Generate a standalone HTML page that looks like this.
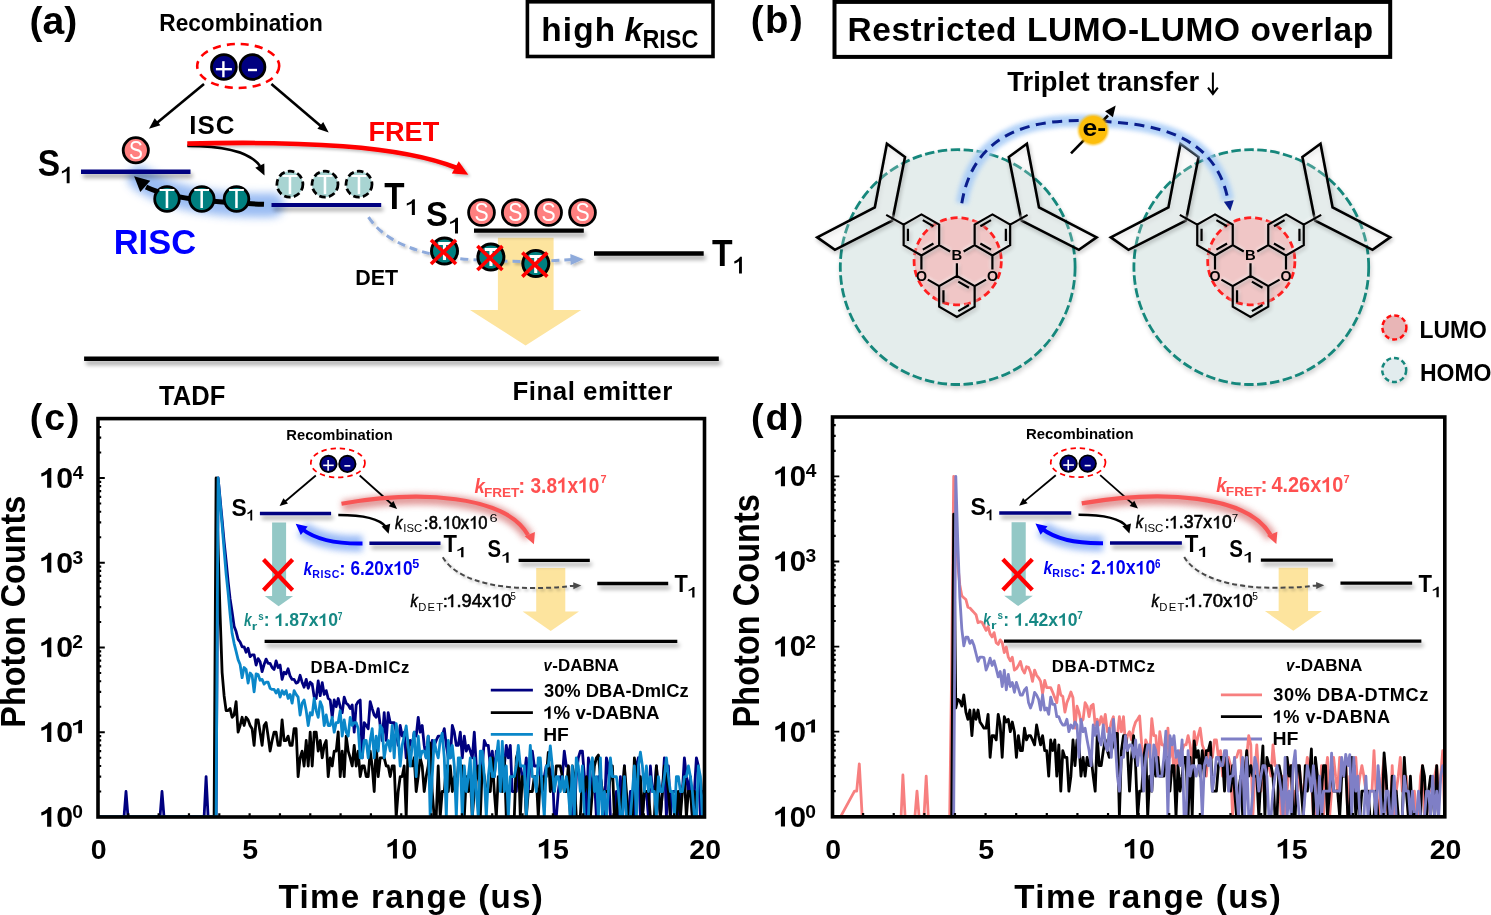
<!DOCTYPE html>
<html><head><meta charset="utf-8"><title>figure</title>
<style>
html,body{margin:0;padding:0;background:#fff;overflow:hidden;}
svg{display:block;will-change:transform;font-family:"Liberation Sans", sans-serif;}
</style></head><body>
<svg width="1491" height="915" viewBox="0 0 1491 915">
<rect x="0" y="0" width="1491" height="915" fill="#fff"/>
<defs>
<filter id="sh" filterUnits="userSpaceOnUse" x="0" y="0" width="1491" height="915">
 <feGaussianBlur in="SourceAlpha" stdDeviation="2.2"/>
 <feOffset dx="2" dy="4" result="o"/>
 <feComponentTransfer><feFuncA type="linear" slope="0.35"/></feComponentTransfer>
 <feMerge><feMergeNode/><feMergeNode in="SourceGraphic"/></feMerge>
</filter>
<filter id="sh2" filterUnits="userSpaceOnUse" x="0" y="0" width="1491" height="915">
 <feGaussianBlur in="SourceAlpha" stdDeviation="1.4"/>
 <feOffset dx="1.5" dy="2" result="o"/>
 <feComponentTransfer><feFuncA type="linear" slope="0.25"/></feComponentTransfer>
 <feMerge><feMergeNode/><feMergeNode in="SourceGraphic"/></feMerge>
</filter>
<filter id="blur4" filterUnits="userSpaceOnUse" x="0" y="0" width="1491" height="915"><feGaussianBlur stdDeviation="4"/></filter>
<filter id="blur3" filterUnits="userSpaceOnUse" x="0" y="0" width="1491" height="915"><feGaussianBlur stdDeviation="3"/></filter>
<filter id="blur2" filterUnits="userSpaceOnUse" x="0" y="0" width="1491" height="915"><feGaussianBlur stdDeviation="2"/></filter>
<filter id="blur1" filterUnits="userSpaceOnUse" x="0" y="0" width="1491" height="915"><feGaussianBlur stdDeviation="1"/></filter>
</defs>
<text x="29.54" y="33.50" font-size="38.60" font-weight="bold" font-style="normal" textLength="47.80" lengthAdjust="spacingAndGlyphs" fill="#000" >(a)</text>
<text x="159.33" y="31.20" font-size="23.55" font-weight="bold" font-style="normal" textLength="163.49" lengthAdjust="spacingAndGlyphs" fill="#000" >Recombination</text>
<ellipse cx="238.20" cy="66.00" rx="41.00" ry="22.00" fill="none" stroke="#FF0000" stroke-width="2.60" stroke-dasharray="8.00 6.00"/><circle cx="223.90" cy="67.00" r="12.40" fill="#000080" stroke="#000" stroke-width="2.8" /><line x1="215.90" y1="69.20" x2="231.90" y2="69.20" stroke="#fff" stroke-width="2.4" /><line x1="223.40" y1="61.20" x2="223.40" y2="77.20" stroke="#fff" stroke-width="2.4" /><circle cx="252.50" cy="67.00" r="12.40" fill="#000080" stroke="#000" stroke-width="2.8" /><line x1="248.00" y1="70.00" x2="257.00" y2="70.00" stroke="#fff" stroke-width="2.4" />
<line x1="204.00" y1="84.00" x2="155.00" y2="124.50" stroke="#000" stroke-width="2.6" />
<polygon points="149.00,128.70 154.70,118.27 160.37,125.25" fill="#000" />
<line x1="271.40" y1="84.00" x2="322.50" y2="127.50" stroke="#000" stroke-width="2.6" />
<polygon points="328.70,132.50 317.40,128.83 323.21,121.96" fill="#000" />
<text x="189.32" y="133.80" font-size="25.87" font-weight="bold" font-style="normal" textLength="45.01" lengthAdjust="spacing" fill="#000" >ISC</text>
<path d="M 272 205 C 240 206, 175 204, 140 178" fill="none" stroke="#8FB5F2" stroke-width="24" stroke-linecap="round" filter="url(#blur4)" opacity="0.9"/>
<g filter="url(#sh)"><line x1="81.00" y1="171.80" x2="190.50" y2="171.80" stroke="#000080" stroke-width="4.5" /></g>
<circle cx="135.80" cy="150.30" r="12.60" fill="#FF8080" stroke="#000" stroke-width="2.8" />
<text x="128.88" y="159.20" font-size="26.00" font-weight="normal" font-style="normal" textLength="13.87" lengthAdjust="spacingAndGlyphs" fill="#fff" >S</text>
<text x="37.70" y="175.80" font-size="37.35" font-weight="bold" font-style="normal" textLength="22.35" lengthAdjust="spacingAndGlyphs" fill="#000" >S</text>
<path d="M69.60,183.30 L69.60,166.85 L67.67,166.85 C67.07,168.07 65.84,169.18 64.41,170.00 C63.44,170.55 62.59,170.89 61.90,171.12 L61.90,173.49 C63.51,172.99 65.34,172.12 66.70,171.12 L66.70,183.30 Z" fill="#000" />
<path d="M 264 204.3 C 230 203, 175 201, 146 187" fill="none" stroke="#000" stroke-width="5"/>
<polygon points="134.10,176.30 150.28,180.70 140.29,191.88" fill="#000" />
<circle cx="167.00" cy="199.00" r="12.30" fill="#008080" stroke="#000" stroke-width="2.8" />
<text x="159.03" y="208.20" font-size="27.50" font-weight="normal" font-style="normal" textLength="15.96" lengthAdjust="spacingAndGlyphs" fill="#fff" >T</text>
<circle cx="201.80" cy="199.00" r="12.30" fill="#008080" stroke="#000" stroke-width="2.8" />
<text x="193.83" y="208.20" font-size="27.50" font-weight="normal" font-style="normal" textLength="15.96" lengthAdjust="spacingAndGlyphs" fill="#fff" >T</text>
<circle cx="236.50" cy="199.00" r="12.30" fill="#008080" stroke="#000" stroke-width="2.8" />
<text x="228.53" y="208.20" font-size="27.50" font-weight="normal" font-style="normal" textLength="15.96" lengthAdjust="spacingAndGlyphs" fill="#fff" >T</text>
<text x="113.76" y="254.20" font-size="35.17" font-weight="bold" font-style="normal" textLength="82.24" lengthAdjust="spacingAndGlyphs" fill="#0000FF" >RISC</text>
<path d="M 187.3 145.9 C 225 146, 250 152, 260 166" fill="none" stroke="#000" stroke-width="2.6"/>
<polygon points="264.50,175.50 255.27,167.70 264.31,163.42" fill="#000" />
<g filter="url(#sh2)"><path d="M 187.3 143.6 C 300 141, 400 145, 457 168" fill="none" stroke="#FF0000" stroke-width="4.6"/><polygon points="468.30,174.80 451.80,173.44 458.75,161.28" fill="#FF0000" /></g>
<text x="368.44" y="141.40" font-size="27.76" font-weight="bold" font-style="normal" textLength="70.86" lengthAdjust="spacingAndGlyphs" fill="#FF0000" >FRET</text>
<g filter="url(#sh)"><line x1="271.50" y1="205.00" x2="381.20" y2="205.00" stroke="#000080" stroke-width="4" /></g>
<circle cx="289.90" cy="184.20" r="13.00" fill="#A8D4D2" stroke="#000" stroke-width="2.8" stroke-dasharray="6.5 3.3"/>
<text x="281.93" y="193.60" font-size="27.50" font-weight="normal" font-style="normal" textLength="15.96" lengthAdjust="spacingAndGlyphs" fill="#fff" >T</text>
<circle cx="325.00" cy="184.20" r="13.00" fill="#A8D4D2" stroke="#000" stroke-width="2.8" stroke-dasharray="6.5 3.3"/>
<text x="317.03" y="193.60" font-size="27.50" font-weight="normal" font-style="normal" textLength="15.96" lengthAdjust="spacingAndGlyphs" fill="#fff" >T</text>
<circle cx="359.00" cy="184.20" r="13.00" fill="#A8D4D2" stroke="#000" stroke-width="2.8" stroke-dasharray="6.5 3.3"/>
<text x="351.03" y="193.60" font-size="27.50" font-weight="normal" font-style="normal" textLength="15.96" lengthAdjust="spacingAndGlyphs" fill="#fff" >T</text>
<text x="384.37" y="208.80" font-size="37.06" font-weight="bold" font-style="normal" textLength="20.29" lengthAdjust="spacingAndGlyphs" fill="#000" >T</text>
<path d="M414.90,215.10 L414.90,199.25 L412.87,199.25 C412.24,200.43 410.94,201.50 409.44,202.28 C408.42,202.82 407.53,203.14 406.80,203.36 L406.80,205.65 C408.49,205.17 410.42,204.33 411.84,203.36 L411.84,215.10 Z" fill="#000" />
<text x="426.01" y="226.10" font-size="35.76" font-weight="bold" font-style="normal" textLength="21.90" lengthAdjust="spacingAndGlyphs" fill="#000" >S</text>
<path d="M458.00,233.40 L458.00,217.75 L456.02,217.75 C455.41,218.91 454.14,219.97 452.68,220.74 C451.68,221.27 450.81,221.59 450.10,221.81 L450.10,224.06 C451.75,223.59 453.63,222.76 455.02,221.81 L455.02,233.40 Z" fill="#000" />
<polygon points="497.9,237.7 553.6,237.7 553.6,310 581.2,310 525.6,345.6 470,310 497.9,310" fill="#FDE49E"/>
<g filter="url(#sh)"><line x1="474.00" y1="230.60" x2="583.80" y2="230.60" stroke="#000" stroke-width="4.4" /></g>
<circle cx="481.50" cy="212.50" r="12.90" fill="#FF8080" stroke="#000" stroke-width="2.8" />
<text x="474.45" y="221.30" font-size="26.50" font-weight="normal" font-style="normal" textLength="14.14" lengthAdjust="spacingAndGlyphs" fill="#fff" >S</text>
<circle cx="515.30" cy="212.50" r="12.90" fill="#FF8080" stroke="#000" stroke-width="2.8" />
<text x="508.25" y="221.30" font-size="26.50" font-weight="normal" font-style="normal" textLength="14.14" lengthAdjust="spacingAndGlyphs" fill="#fff" >S</text>
<circle cx="548.60" cy="212.50" r="12.90" fill="#FF8080" stroke="#000" stroke-width="2.8" />
<text x="541.55" y="221.30" font-size="26.50" font-weight="normal" font-style="normal" textLength="14.14" lengthAdjust="spacingAndGlyphs" fill="#fff" >S</text>
<circle cx="582.50" cy="212.50" r="12.90" fill="#FF8080" stroke="#000" stroke-width="2.8" />
<text x="575.45" y="221.30" font-size="26.50" font-weight="normal" font-style="normal" textLength="14.14" lengthAdjust="spacingAndGlyphs" fill="#fff" >S</text>
<g filter="url(#sh2)"><path d="M 368.5 217.2 C 385 242, 420 256, 470 259.5 S 550 261, 572 259.6" fill="none" stroke="#8EAADB" stroke-width="3" stroke-dasharray="8 5"/><polygon points="583.50,259.20 570.67,265.09 570.34,254.09" fill="#8EAADB" /></g>
<circle cx="444.50" cy="251.00" r="13.00" fill="#008080" stroke="#000" stroke-width="3" />
<text x="438.02" y="260.00" font-size="25.00" font-weight="bold" font-style="normal" textLength="12.98" lengthAdjust="spacingAndGlyphs" fill="#fff" >T</text>
<line x1="431.00" y1="240.00" x2="456.00" y2="264.00" stroke="#FF0000" stroke-width="3.6" />
<line x1="456.00" y1="240.00" x2="431.00" y2="264.00" stroke="#FF0000" stroke-width="3.6" />
<circle cx="490.90" cy="257.00" r="13.00" fill="#008080" stroke="#000" stroke-width="3" />
<text x="484.42" y="266.00" font-size="25.00" font-weight="bold" font-style="normal" textLength="12.98" lengthAdjust="spacingAndGlyphs" fill="#fff" >T</text>
<line x1="477.40" y1="246.00" x2="502.40" y2="270.00" stroke="#FF0000" stroke-width="3.6" />
<line x1="502.40" y1="246.00" x2="477.40" y2="270.00" stroke="#FF0000" stroke-width="3.6" />
<circle cx="535.80" cy="263.60" r="13.00" fill="#008080" stroke="#000" stroke-width="3" />
<text x="529.32" y="272.60" font-size="25.00" font-weight="bold" font-style="normal" textLength="12.98" lengthAdjust="spacingAndGlyphs" fill="#fff" >T</text>
<line x1="522.30" y1="252.60" x2="547.30" y2="276.60" stroke="#FF0000" stroke-width="3.6" />
<line x1="547.30" y1="252.60" x2="522.30" y2="276.60" stroke="#FF0000" stroke-width="3.6" />
<text x="355.31" y="285.10" font-size="22.24" font-weight="bold" font-style="normal" textLength="42.91" lengthAdjust="spacingAndGlyphs" fill="#000" >DET</text>
<g filter="url(#sh)"><line x1="594.00" y1="253.50" x2="703.70" y2="253.50" stroke="#000" stroke-width="4.4" /></g>
<text x="712.06" y="265.80" font-size="36.19" font-weight="bold" font-style="normal" textLength="20.60" lengthAdjust="spacingAndGlyphs" fill="#000" >T</text>
<path d="M741.90,273.40 L741.90,256.85 L739.99,256.85 C739.41,258.08 738.19,259.20 736.78,260.02 C735.82,260.58 734.98,260.92 734.30,261.15 L734.30,263.53 C735.89,263.03 737.70,262.15 739.03,261.14 L739.03,273.40 Z" fill="#000" />
<g filter="url(#sh)"><line x1="84.10" y1="358.80" x2="718.80" y2="358.80" stroke="#000" stroke-width="4.5" /></g>
<text x="159.04" y="404.90" font-size="27.76" font-weight="bold" font-style="normal" textLength="66.20" lengthAdjust="spacingAndGlyphs" fill="#000" >TADF</text>
<text x="512.52" y="400.40" font-size="25.87" font-weight="bold" font-style="normal" textLength="159.75" lengthAdjust="spacing" fill="#000" >Final emitter</text>
<rect x="527.4" y="1.8" width="185.6" height="54.7" fill="none" stroke="#000" stroke-width="3.6"/>
<text x="541.16" y="40.80" font-size="33.38" font-weight="bold" font-style="normal" textLength="74.06" lengthAdjust="spacing" fill="#000" >high</text>
<text x="624.51" y="40.80" font-size="33.38" font-weight="bold" font-style="italic" textLength="18.22" lengthAdjust="spacingAndGlyphs" fill="#000" >k</text>
<text x="642.48" y="48.40" font-size="25.87" font-weight="bold" font-style="normal" textLength="55.90" lengthAdjust="spacingAndGlyphs" fill="#000" >RISC</text>
<text x="750.79" y="32.90" font-size="38.30" font-weight="bold" font-style="normal" textLength="51.92" lengthAdjust="spacing" fill="#000" >(b)</text>
<rect x="834.5" y="1.9" width="555.7" height="55" fill="none" stroke="#000" stroke-width="4"/>
<text x="847.43" y="40.80" font-size="33.43" font-weight="bold" font-style="normal" textLength="525.69" lengthAdjust="spacing" fill="#000" >Restricted LUMO-LUMO overlap</text>
<text x="1007.33" y="91.30" font-size="27.18" font-weight="bold" font-style="normal" textLength="191.81" lengthAdjust="spacingAndGlyphs" fill="#000" >Triplet transfer</text>
<path d="M1212.9,72.5 V93 M1208,87.6 L1212.9,94 L1217.8,87.6" fill="none" stroke="#000" stroke-width="2"/>
<defs><filter id="msh" filterUnits="userSpaceOnUse" x="0" y="0" width="1491" height="915">
 <feGaussianBlur in="SourceAlpha" stdDeviation="2.2"/>
 <feOffset dx="1" dy="2"/>
 <feComponentTransfer><feFuncA type="linear" slope="0.3"/></feComponentTransfer>
 <feMerge><feMergeNode/><feMergeNode in="SourceGraphic"/></feMerge>
</filter>
<filter id="csh" filterUnits="userSpaceOnUse" x="0" y="0" width="1491" height="915">
 <feGaussianBlur in="SourceAlpha" stdDeviation="2.5"/>
 <feOffset dx="1" dy="3"/>
 <feComponentTransfer><feFuncA type="linear" slope="0.18"/></feComponentTransfer>
 <feMerge><feMergeNode/><feMergeNode in="SourceGraphic"/></feMerge>
</filter></defs>
<circle cx="957.70" cy="267.10" r="117.4" fill="#E4EDEC" stroke="#15877B" stroke-width="2.8" stroke-dasharray="9.5 3.5" filter="url(#csh)"/>
<circle cx="1251.30" cy="267.10" r="117.4" fill="#E4EDEC" stroke="#15877B" stroke-width="2.8" stroke-dasharray="9.5 3.5" filter="url(#csh)"/>
<circle cx="957.70" cy="261.30" r="43.6" fill="#F0C6C6" stroke="#FF2020" stroke-width="2.8" stroke-dasharray="7 4"/>
<circle cx="1251.30" cy="261.30" r="43.6" fill="#F0C6C6" stroke="#FF2020" stroke-width="2.8" stroke-dasharray="7 4"/>
<path d="M1096.60,237.40 L1039.00,207.50 L1026.90,143.80 L1008.80,157.00 L1020.50,215.70 L1021.60,220.60 L1078.90,249.80 Z" fill="#FFFFFF" fill-opacity="0.18" stroke="#000" stroke-width="2.6" stroke-linejoin="miter" filter="url(#msh)"/>
<path d="M817.20,237.40 L874.80,207.50 L886.90,143.80 L905.00,157.00 L893.30,215.70 L892.20,220.60 L834.90,249.80 Z" fill="#FFFFFF" fill-opacity="0.18" stroke="#000" stroke-width="2.6" stroke-linejoin="miter" filter="url(#msh)"/>
<path d="M921.40,214.40 L939.15,224.65 L939.15,245.15 L921.40,255.40 L903.65,245.15 L903.65,224.65 Z M922.80,220.17 L933.45,226.32 M933.45,243.48 L922.80,249.63 M907.95,241.05 L907.95,228.75 M992.40,214.40 L1010.15,224.65 L1010.15,245.15 L992.40,255.40 L974.65,245.15 L974.65,224.65 Z M991.00,220.17 L980.35,226.32 M1005.85,228.75 L1005.85,241.05 M991.00,249.63 L980.35,243.48 M956.90,275.90 L974.65,286.15 L974.65,306.65 L956.90,316.90 L939.15,306.65 L939.15,286.15 Z M958.30,281.67 L968.95,287.82 M968.95,304.98 L958.30,311.13 M943.45,302.55 L943.45,290.25 M950.15,251.50 L939.15,245.15 M963.64,251.50 L974.65,245.15 M956.90,263.19 L956.90,275.90 M921.40,255.40 L921.40,269.40 M927.79,279.59 L939.15,286.15 M992.40,255.40 L992.40,269.40 M986.01,279.59 L974.65,286.15 M1027.60,214.90 L1010.15,224.65 M886.20,214.90 L903.65,224.65" fill="none" stroke="#fff" stroke-width="6" opacity="0.45" filter="url(#blur1)"/>
<path d="M921.40,214.40 L939.15,224.65 L939.15,245.15 L921.40,255.40 L903.65,245.15 L903.65,224.65 Z M922.80,220.17 L933.45,226.32 M933.45,243.48 L922.80,249.63 M907.95,241.05 L907.95,228.75 M992.40,214.40 L1010.15,224.65 L1010.15,245.15 L992.40,255.40 L974.65,245.15 L974.65,224.65 Z M991.00,220.17 L980.35,226.32 M1005.85,228.75 L1005.85,241.05 M991.00,249.63 L980.35,243.48 M956.90,275.90 L974.65,286.15 L974.65,306.65 L956.90,316.90 L939.15,306.65 L939.15,286.15 Z M958.30,281.67 L968.95,287.82 M968.95,304.98 L958.30,311.13 M943.45,302.55 L943.45,290.25 M950.15,251.50 L939.15,245.15 M963.64,251.50 L974.65,245.15 M956.90,263.19 L956.90,275.90 M921.40,255.40 L921.40,269.40 M927.79,279.59 L939.15,286.15 M992.40,255.40 L992.40,269.40 M986.01,279.59 L974.65,286.15 M1027.60,214.90 L1010.15,224.65 M886.20,214.90 L903.65,224.65" fill="none" stroke="#000" stroke-width="2.2" stroke-linejoin="miter" filter="url(#msh)"/>
<text x="951.42" y="260.40" font-size="14.80" font-weight="bold" font-style="normal" textLength="10.69" lengthAdjust="spacingAndGlyphs" fill="#000" >B</text>
<text x="915.90" y="280.80" font-size="14.20" font-weight="bold" font-style="normal" textLength="11.04" lengthAdjust="spacingAndGlyphs" fill="#000" >O</text>
<text x="986.90" y="280.80" font-size="14.20" font-weight="bold" font-style="normal" textLength="11.04" lengthAdjust="spacingAndGlyphs" fill="#000" >O</text>
<path d="M1390.20,237.40 L1332.60,207.50 L1320.50,143.80 L1302.40,157.00 L1314.10,215.70 L1315.20,220.60 L1372.50,249.80 Z" fill="#FFFFFF" fill-opacity="0.18" stroke="#000" stroke-width="2.6" stroke-linejoin="miter" filter="url(#msh)"/>
<path d="M1110.80,237.40 L1168.40,207.50 L1180.50,143.80 L1198.60,157.00 L1186.90,215.70 L1185.80,220.60 L1128.50,249.80 Z" fill="#FFFFFF" fill-opacity="0.18" stroke="#000" stroke-width="2.6" stroke-linejoin="miter" filter="url(#msh)"/>
<path d="M1215.00,214.40 L1232.75,224.65 L1232.75,245.15 L1215.00,255.40 L1197.25,245.15 L1197.25,224.65 Z M1216.40,220.17 L1227.05,226.32 M1227.05,243.48 L1216.40,249.63 M1201.55,241.05 L1201.55,228.75 M1286.00,214.40 L1303.75,224.65 L1303.75,245.15 L1286.00,255.40 L1268.25,245.15 L1268.25,224.65 Z M1284.60,220.17 L1273.95,226.32 M1299.45,228.75 L1299.45,241.05 M1284.60,249.63 L1273.95,243.48 M1250.50,275.90 L1268.25,286.15 L1268.25,306.65 L1250.50,316.90 L1232.75,306.65 L1232.75,286.15 Z M1251.90,281.67 L1262.55,287.82 M1262.55,304.98 L1251.90,311.13 M1237.05,302.55 L1237.05,290.25 M1243.76,251.50 L1232.75,245.15 M1257.24,251.50 L1268.25,245.15 M1250.50,263.19 L1250.50,275.90 M1215.00,255.40 L1215.00,269.40 M1221.39,279.59 L1232.75,286.15 M1286.00,255.40 L1286.00,269.40 M1279.61,279.59 L1268.25,286.15 M1321.20,214.90 L1303.75,224.65 M1179.80,214.90 L1197.25,224.65" fill="none" stroke="#fff" stroke-width="6" opacity="0.45" filter="url(#blur1)"/>
<path d="M1215.00,214.40 L1232.75,224.65 L1232.75,245.15 L1215.00,255.40 L1197.25,245.15 L1197.25,224.65 Z M1216.40,220.17 L1227.05,226.32 M1227.05,243.48 L1216.40,249.63 M1201.55,241.05 L1201.55,228.75 M1286.00,214.40 L1303.75,224.65 L1303.75,245.15 L1286.00,255.40 L1268.25,245.15 L1268.25,224.65 Z M1284.60,220.17 L1273.95,226.32 M1299.45,228.75 L1299.45,241.05 M1284.60,249.63 L1273.95,243.48 M1250.50,275.90 L1268.25,286.15 L1268.25,306.65 L1250.50,316.90 L1232.75,306.65 L1232.75,286.15 Z M1251.90,281.67 L1262.55,287.82 M1262.55,304.98 L1251.90,311.13 M1237.05,302.55 L1237.05,290.25 M1243.76,251.50 L1232.75,245.15 M1257.24,251.50 L1268.25,245.15 M1250.50,263.19 L1250.50,275.90 M1215.00,255.40 L1215.00,269.40 M1221.39,279.59 L1232.75,286.15 M1286.00,255.40 L1286.00,269.40 M1279.61,279.59 L1268.25,286.15 M1321.20,214.90 L1303.75,224.65 M1179.80,214.90 L1197.25,224.65" fill="none" stroke="#000" stroke-width="2.2" stroke-linejoin="miter" filter="url(#msh)"/>
<text x="1245.02" y="260.40" font-size="14.80" font-weight="bold" font-style="normal" textLength="10.69" lengthAdjust="spacingAndGlyphs" fill="#000" >B</text>
<text x="1209.50" y="280.80" font-size="14.20" font-weight="bold" font-style="normal" textLength="11.04" lengthAdjust="spacingAndGlyphs" fill="#000" >O</text>
<text x="1280.50" y="280.80" font-size="14.20" font-weight="bold" font-style="normal" textLength="11.04" lengthAdjust="spacingAndGlyphs" fill="#000" >O</text>
<path d="M 961.8 203.3 C 975 122, 1050 119, 1094 121 C 1150 123, 1215 132, 1228 200" fill="none" stroke="#A6CBF7" stroke-width="12" filter="url(#blur2)" opacity="0.85"/>
<path d="M 961.8 203.3 C 975 122, 1050 119, 1094 121 C 1150 123, 1215 132, 1228 200" fill="none" stroke="#0B1E8C" stroke-width="3" stroke-dasharray="10 6.5"/>
<polygon points="1230.30,211.00 1223.87,201.85 1233.76,200.37" fill="#0B1E8C" />
<line x1="1071.00" y1="153.40" x2="1108.00" y2="115.50" stroke="#000" stroke-width="2.6" />
<polygon points="1115.70,105.60 1112.89,117.35 1105.00,111.21" fill="#000" />
<circle cx="1093.2" cy="130" r="15" fill="#FDBE0A" filter="url(#blur1)"/>
<circle cx="1093.2" cy="130" r="13.6" fill="#FDBE0A"/>
<text x="1082.43" y="136.40" font-size="24.07" font-weight="bold" font-style="normal" textLength="23.71" lengthAdjust="spacingAndGlyphs" fill="#000" >e-</text>
<circle cx="1394.4" cy="327.4" r="12" fill="#E8B5B6" stroke="#FF1010" stroke-width="2.5" stroke-dasharray="5 3" filter="url(#csh)"/>
<circle cx="1394.2" cy="370" r="12" fill="#E2ECEE" stroke="#15877B" stroke-width="2.5" stroke-dasharray="5 3" filter="url(#csh)"/>
<text x="1419.41" y="337.90" font-size="23.40" font-weight="bold" font-style="normal" textLength="67.39" lengthAdjust="spacingAndGlyphs" fill="#000" >LUMO</text>
<text x="1419.91" y="381.00" font-size="23.40" font-weight="bold" font-style="normal" textLength="71.53" lengthAdjust="spacingAndGlyphs" fill="#000" >HOMO</text>
<text x="29.74" y="430.00" font-size="37.30" font-weight="bold" font-style="normal" textLength="49.70" lengthAdjust="spacing" fill="#000" >(c)</text>
<g transform="translate(24.9,725.6) rotate(-90)"><text x="-2.10" y="0.00" font-size="34.74" font-weight="bold" font-style="normal" textLength="231.91" lengthAdjust="spacingAndGlyphs" fill="#000" >Photon Counts</text></g>
<text x="278.47" y="907.70" font-size="33.14" font-weight="bold" font-style="normal" textLength="264.33" lengthAdjust="spacing" fill="#000" >Time range (us)</text>
<path d="M 341.5 503.7 C 420 490, 505 495, 528 535" fill="none" stroke="#D87878" stroke-width="11" filter="url(#blur3)" opacity="0.75" transform="translate(1,2.5)"/>
<text x="286.34" y="439.60" font-size="14.97" font-weight="bold" font-style="normal" textLength="106.48" lengthAdjust="spacingAndGlyphs" fill="#000" >Recombination</text>
<ellipse cx="337.90" cy="462.90" rx="27.06" ry="14.52" fill="none" stroke="#FF0000" stroke-width="1.72" stroke-dasharray="5.28 3.96"/>
<circle cx="328.46" cy="463.90" r="8.18" fill="#000080" stroke="#000" stroke-width="1.8479999999999999" />
<line x1="323.18" y1="465.35" x2="333.74" y2="465.35" stroke="#fff" stroke-width="1.584" />
<line x1="328.13" y1="460.07" x2="328.13" y2="470.63" stroke="#fff" stroke-width="1.584" />
<circle cx="347.34" cy="463.90" r="8.18" fill="#000080" stroke="#000" stroke-width="1.8479999999999999" />
<line x1="344.37" y1="465.88" x2="350.31" y2="465.88" stroke="#fff" stroke-width="1.584" />
<line x1="315.80" y1="475.50" x2="283.60" y2="502.70" stroke="#000" stroke-width="1.8" />
<polygon points="279.60,506.10 283.45,498.26 287.97,503.61" fill="#000" />
<line x1="359.70" y1="475.50" x2="393.30" y2="505.50" stroke="#000" stroke-width="1.8" />
<polygon points="397.10,508.90 388.80,506.18 393.46,500.96" fill="#000" />
<text x="231.41" y="515.80" font-size="23.40" font-weight="bold" font-style="normal" textLength="15.23" lengthAdjust="spacingAndGlyphs" fill="#000" >S</text>
<path d="M252.20,520.60 L252.20,509.83 L250.95,509.83 C250.61,510.64 249.85,511.38 248.97,511.91 C248.37,512.27 247.84,512.48 247.40,512.63 L247.40,514.27 C248.40,513.95 249.50,513.40 250.33,512.75 L250.33,520.60 Z" fill="#000" />
<polygon points="272.1,522.5 286.1,522.5 286.1,596 293.1,596 278.6,606.3 264.8,596 272.1,596" fill="#93C8C6"/>
<path d="M 362.5 543.6 C 335 544, 315 539, 302 529" fill="none" stroke="#8FB3F5" stroke-width="16" filter="url(#blur3)" opacity="0.9"/>
<g filter="url(#sh)"><line x1="259.90" y1="513.40" x2="331.10" y2="513.40" stroke="#000080" stroke-width="3.5" /></g>
<path d="M 362.5 543.6 C 335 544, 315 539, 302 529" fill="none" stroke="#0000FF" stroke-width="4"/>
<polygon points="295.70,523.80 307.71,526.47 300.77,535.01" fill="#0000FF" />
<line x1="263.50" y1="559.50" x2="292.60" y2="590.30" stroke="#FF0000" stroke-width="4.2" />
<line x1="292.60" y1="559.50" x2="263.50" y2="590.30" stroke="#FF0000" stroke-width="4.2" />
<g filter="url(#sh)"><line x1="369.40" y1="543.30" x2="440.50" y2="543.30" stroke="#000080" stroke-width="3.5" /></g>
<text x="443.38" y="552.00" font-size="23.40" font-weight="bold" font-style="normal" textLength="13.46" lengthAdjust="spacingAndGlyphs" fill="#000" >T</text>
<path d="M463.50,557.30 L463.50,547.03 L461.92,547.03 C461.47,547.80 460.51,548.50 459.39,549.01 C458.63,549.35 457.97,549.55 457.40,549.70 L457.40,551.26 C458.67,550.96 460.07,550.43 461.12,549.81 L461.12,557.30 Z" fill="#000" />
<path d="M 338.3 515 C 365 515, 380 519, 386 527" fill="none" stroke="#000" stroke-width="2.6"/>
<polygon points="388.60,533.80 381.62,526.55 390.21,523.87" fill="#000" />
<path d="M 341.5 503.7 C 420 490, 505 495, 528 535" fill="none" stroke="#F85656" stroke-width="4.2"/>
<polygon points="533.90,544.30 524.71,536.13 534.92,532.04" fill="#F85656" />
<text x="487.39" y="557.30" font-size="23.40" font-weight="bold" font-style="normal" textLength="13.56" lengthAdjust="spacingAndGlyphs" fill="#000" >S</text>
<path d="M508.60,562.70 L508.60,552.23 L507.02,552.23 C506.57,553.02 505.61,553.73 504.49,554.25 C503.73,554.60 503.07,554.80 502.50,554.95 L502.50,556.54 C503.77,556.23 505.17,555.70 506.22,555.07 L506.22,562.70 Z" fill="#000" />
<polygon points="536.2,568 565.3,568 565.3,611.4 579,611.4 550.7,631.1 522.6,611.4 536.2,611.4" fill="#FDE49E"/>
<g filter="url(#sh)"><line x1="518.60" y1="560.40" x2="589.80" y2="560.40" stroke="#000" stroke-width="3.3" /></g>
<g filter="url(#sh2)"><path d="M 442.8 557.3 C 455 578, 490 588, 530 588 S 565 586, 575 585.7" fill="none" stroke="#4A4A4A" stroke-width="2" stroke-dasharray="5 3"/><polygon points="581.30,585.60 573.41,589.34 573.20,582.34" fill="#4A4A4A" /></g>
<g filter="url(#sh)"><line x1="597.30" y1="583.50" x2="668.20" y2="583.50" stroke="#000" stroke-width="3.3" /></g>
<text x="674.48" y="592.30" font-size="23.40" font-weight="bold" font-style="normal" textLength="13.36" lengthAdjust="spacingAndGlyphs" fill="#000" >T</text>
<path d="M694.50,597.50 L694.50,587.03 L692.97,587.03 C692.54,587.82 691.61,588.53 690.52,589.05 C689.79,589.40 689.15,589.60 688.60,589.75 L688.60,591.34 C689.83,591.03 691.18,590.50 692.20,589.87 L692.20,597.50 Z" fill="#000" />
<g filter="url(#sh)"><line x1="264.60" y1="641.40" x2="677.30" y2="641.40" stroke="#000" stroke-width="3.3" /></g>
<text x="310.41" y="672.70" font-size="16.72" font-weight="bold" font-style="normal" textLength="99.07" lengthAdjust="spacing" fill="#000" >DBA-DmlCz</text>
<text x="543.58" y="671.40" font-size="16.50" font-weight="bold" font-style="italic" textLength="8.27" lengthAdjust="spacingAndGlyphs" fill="#000" >v</text>
<text x="552.32" y="671.40" font-size="17.15" font-weight="bold" font-style="normal" textLength="66.77" lengthAdjust="spacingAndGlyphs" fill="#000" >-DABNA</text>
<text x="394.98" y="528.70" font-size="17.50" font-weight="normal" font-style="italic" textLength="7.33" lengthAdjust="spacingAndGlyphs" fill="#000" stroke="#000" stroke-width="0.6">k</text>
<text x="403.28" y="532.00" font-size="11.20" font-weight="normal" font-style="normal" textLength="18.94" lengthAdjust="spacingAndGlyphs" fill="#000" >ISC</text>
<text x="423.66" y="528.70" font-size="17.00" font-weight="normal" font-style="normal" textLength="4.72" lengthAdjust="spacingAndGlyphs" fill="#000" stroke="#000" stroke-width="0.6">:</text>
<text x="428.66" y="528.70" font-size="18.00" font-weight="normal" font-style="normal" textLength="13.80" lengthAdjust="spacingAndGlyphs" fill="#000" stroke="#000" stroke-width="0.6">8.</text><path d="M448.63,528.70 L448.63,516.32 L447.67,516.32 C447.26,517.20 446.51,518.01 445.69,518.63 C445.11,519.07 444.61,519.36 444.26,519.53 L444.26,521.00 C445.19,520.61 446.35,519.88 447.18,519.10 L447.18,528.70 Z" fill="#000" stroke="#000" stroke-width="0.6"/><text x="451.66" y="528.70" font-size="18.00" font-weight="normal" font-style="normal" textLength="17.48" lengthAdjust="spacingAndGlyphs" fill="#000" stroke="#000" stroke-width="0.6">0x</text><path d="M475.32,528.70 L475.32,516.32 L474.36,516.32 C473.95,517.20 473.20,518.01 472.37,518.63 C471.79,519.07 471.30,519.36 470.95,519.53 L470.95,521.00 C471.88,520.61 473.04,519.88 473.86,519.10 L473.86,528.70 Z" fill="#000" stroke="#000" stroke-width="0.6"/><text x="478.35" y="528.70" font-size="18.00" font-weight="normal" font-style="normal" textLength="9.21" lengthAdjust="spacingAndGlyphs" fill="#000" stroke="#000" stroke-width="0.6">0</text>
<text x="489.47" y="522.30" font-size="11.00" font-weight="normal" font-style="normal" textLength="8.13" lengthAdjust="spacingAndGlyphs" fill="#000" >6</text>
<text x="474.42" y="492.50" font-size="21.00" font-weight="bold" font-style="italic" textLength="10.36" lengthAdjust="spacingAndGlyphs" fill="#FF5050" >k</text>
<text x="483.92" y="496.80" font-size="13.70" font-weight="bold" font-style="normal" textLength="35.53" lengthAdjust="spacingAndGlyphs" fill="#FF5050" >FRET</text>
<text x="518.18" y="492.50" font-size="21.00" font-weight="bold" font-style="normal" textLength="6.99" lengthAdjust="spacingAndGlyphs" fill="#FF5050" >:</text>
<text x="530.52" y="492.50" font-size="21.80" font-weight="bold" font-style="normal" textLength="26.47" lengthAdjust="spacingAndGlyphs" fill="#FF5050" >3.8</text><path d="M564.48,492.50 L564.48,477.50 L562.71,477.50 C562.33,478.67 561.38,479.72 560.23,480.46 C559.47,480.94 558.80,481.19 558.18,481.40 L558.18,484.02 C559.47,483.60 560.80,482.91 561.83,482.03 L561.83,492.50 Z" fill="#FF5050" /><text x="567.59" y="492.50" font-size="21.80" font-weight="bold" font-style="normal" textLength="10.59" lengthAdjust="spacingAndGlyphs" fill="#FF5050" >x</text><path d="M585.66,492.50 L585.66,477.50 L583.89,477.50 C583.51,478.67 582.56,479.72 581.41,480.46 C580.65,480.94 579.99,481.19 579.36,481.40 L579.36,484.02 C580.65,483.60 581.98,482.91 583.01,482.03 L583.01,492.50 Z" fill="#FF5050" /><text x="588.77" y="492.50" font-size="21.80" font-weight="bold" font-style="normal" textLength="10.59" lengthAdjust="spacingAndGlyphs" fill="#FF5050" >0</text>
<text x="600.56" y="483.10" font-size="11.00" font-weight="bold" font-style="normal" textLength="6.09" lengthAdjust="spacingAndGlyphs" fill="#FF5050" >7</text>
<text x="303.56" y="574.70" font-size="18.50" font-weight="bold" font-style="italic" textLength="8.82" lengthAdjust="spacingAndGlyphs" fill="#0000F0" >k</text>
<text x="312.31" y="577.80" font-size="10.60" font-weight="bold" font-style="normal" textLength="27.02" lengthAdjust="spacing" fill="#0000F0" >RISC</text>
<text x="339.37" y="574.70" font-size="19.00" font-weight="bold" font-style="normal" textLength="6.33" lengthAdjust="spacingAndGlyphs" fill="#0000F0" >:</text>
<text x="350.50" y="574.70" font-size="19.50" font-weight="bold" font-style="normal" textLength="42.98" lengthAdjust="spacingAndGlyphs" fill="#0000F0" >6.20x</text><path d="M400.23,574.70 L400.23,561.28 L398.63,561.28 C398.29,562.33 397.43,563.27 396.40,563.93 C395.71,564.36 395.11,564.58 394.54,564.77 L394.54,567.11 C395.71,566.74 396.91,566.12 397.84,565.33 L397.84,574.70 Z" fill="#0000F0" /><text x="403.03" y="574.70" font-size="19.50" font-weight="bold" font-style="normal" textLength="9.55" lengthAdjust="spacingAndGlyphs" fill="#0000F0" >0</text>
<text x="412.32" y="568.40" font-size="12.00" font-weight="bold" font-style="normal" textLength="7.01" lengthAdjust="spacingAndGlyphs" fill="#0000F0" >5</text>
<text x="243.89" y="626.00" font-size="17.50" font-weight="bold" font-style="italic" textLength="7.67" lengthAdjust="spacingAndGlyphs" fill="#168884" >k</text>
<text x="251.88" y="629.60" font-size="11.00" font-weight="bold" font-style="normal" textLength="5.52" lengthAdjust="spacingAndGlyphs" fill="#168884" >r</text>
<text x="258.26" y="619.60" font-size="11.00" font-weight="bold" font-style="normal" textLength="5.45" lengthAdjust="spacingAndGlyphs" fill="#168884" >s</text>
<text x="263.76" y="626.00" font-size="17.50" font-weight="bold" font-style="normal" textLength="5.83" lengthAdjust="spacingAndGlyphs" fill="#168884" >:</text>
<path d="M281.41,626.00 L281.41,613.48 L279.78,613.48 C279.43,614.46 278.55,615.33 277.50,615.94 C276.79,616.35 276.18,616.56 275.60,616.73 L275.60,618.92 C276.79,618.57 278.02,617.99 278.97,617.26 L278.97,626.00 Z" fill="#168884" /><text x="284.28" y="626.00" font-size="18.20" font-weight="bold" font-style="normal" textLength="34.18" lengthAdjust="spacingAndGlyphs" fill="#168884" >.87x</text><path d="M325.36,626.00 L325.36,613.48 L323.73,613.48 C323.38,614.46 322.50,615.33 321.45,615.94 C320.75,616.35 320.13,616.56 319.55,616.73 L319.55,618.92 C320.75,618.57 321.98,617.99 322.92,617.26 L322.92,626.00 Z" fill="#168884" /><text x="328.23" y="626.00" font-size="18.20" font-weight="bold" font-style="normal" textLength="9.77" lengthAdjust="spacingAndGlyphs" fill="#168884" >0</text>
<text x="337.66" y="619.50" font-size="10.50" font-weight="bold" font-style="normal" textLength="4.68" lengthAdjust="spacingAndGlyphs" fill="#168884" >7</text>
<text x="410.48" y="607.00" font-size="17.50" font-weight="normal" font-style="italic" textLength="7.24" lengthAdjust="spacingAndGlyphs" fill="#000" stroke="#000" stroke-width="0.6">k</text>
<text x="418.20" y="610.90" font-size="11.20" font-weight="normal" font-style="normal" textLength="24.83" lengthAdjust="spacing" fill="#000" >DET</text>
<text x="443.06" y="607.00" font-size="17.00" font-weight="normal" font-style="normal" textLength="4.72" lengthAdjust="spacingAndGlyphs" fill="#000" stroke="#000" stroke-width="0.6">:</text>
<path d="M453.05,607.00 L453.05,594.62 L451.98,594.62 C451.52,595.50 450.70,596.31 449.78,596.93 C449.14,597.37 448.59,597.66 448.20,597.83 L448.20,599.30 C449.23,598.91 450.51,598.18 451.43,597.40 L451.43,607.00 Z" fill="#000" stroke="#000" stroke-width="0.6"/><text x="456.41" y="607.00" font-size="18.00" font-weight="normal" font-style="normal" textLength="34.69" lengthAdjust="spacingAndGlyphs" fill="#000" stroke="#000" stroke-width="0.6">.94x</text><path d="M497.95,607.00 L497.95,594.62 L496.88,594.62 C496.42,595.50 495.60,596.31 494.68,596.93 C494.04,597.37 493.49,597.66 493.10,597.83 L493.10,599.30 C494.13,598.91 495.41,598.18 496.33,597.40 L496.33,607.00 Z" fill="#000" stroke="#000" stroke-width="0.6"/><text x="501.31" y="607.00" font-size="18.00" font-weight="normal" font-style="normal" textLength="10.21" lengthAdjust="spacingAndGlyphs" fill="#000" stroke="#000" stroke-width="0.6">0</text>
<text x="510.51" y="600.30" font-size="11.00" font-weight="normal" font-style="normal" textLength="5.39" lengthAdjust="spacingAndGlyphs" fill="#000" >5</text>
<line x1="490.80" y1="690.10" x2="532.90" y2="690.10" stroke="#000080" stroke-width="2.8" />
<line x1="490.80" y1="712.60" x2="532.90" y2="712.60" stroke="#000" stroke-width="2.8" />
<line x1="490.80" y1="734.40" x2="532.90" y2="734.40" stroke="#0A87C9" stroke-width="2.8" />
<text x="543.94" y="697.00" font-size="18.17" font-weight="bold" font-style="normal" textLength="144.70" lengthAdjust="spacingAndGlyphs" fill="#000" >30% DBA-DmlCz</text>
<path d="M550.58,718.80 L550.58,706.30 L548.85,706.30 C548.47,707.28 547.54,708.15 546.42,708.76 C545.67,709.16 545.02,709.37 544.40,709.55 L544.40,711.73 C545.67,711.38 546.98,710.80 547.99,710.07 L547.99,718.80 Z" fill="#000" /><text x="553.63" y="718.80" font-size="18.17" font-weight="bold" font-style="normal" textLength="105.89" lengthAdjust="spacingAndGlyphs" fill="#000" >% v-DABNA</text>
<text x="543.15" y="740.60" font-size="17.44" font-weight="bold" font-style="normal" textLength="25.69" lengthAdjust="spacingAndGlyphs" fill="#000" >HF</text>
<defs><clipPath id="clipc"><rect x="98.0" y="418.6" width="606.5" height="398.4"/></clipPath><clipPath id="clipd"><rect x="832.5" y="417.0" width="612.3" height="399.79999999999995"/></clipPath></defs>
<g clip-path="url(#clipc)">
<polyline points="98.0,817.0 100.0,817.0 102.0,817.0 104.0,817.0 106.0,817.0 108.0,817.0 110.0,817.0 112.0,817.0 114.0,817.0 116.0,817.0 118.0,817.0 120.0,817.0 122.0,817.0 124.0,817.0 126.0,791.5 128.0,817.0 130.0,817.0 132.0,817.0 134.0,817.0 136.0,817.0 138.0,817.0 140.0,817.0 142.0,817.0 144.0,817.0 146.0,817.0 148.0,817.0 150.0,817.0 152.0,817.0 154.0,817.0 156.0,817.0 158.0,817.0 160.0,817.0 162.0,791.5 164.0,817.0 166.0,817.0 168.1,817.0 170.1,817.0 172.1,817.0 174.1,817.0 176.1,817.0 178.1,817.0 180.1,817.0 182.1,817.0 184.1,817.0 186.1,817.0 188.1,817.0 190.1,817.0 192.1,817.0 194.1,817.0 196.1,817.0 198.1,817.0 200.1,817.0 202.1,817.0 204.1,817.0 206.1,776.6 208.1,817.0 210.1,817.0 212.1,817.0 214.1,817.0 216.1,817.0 218.1,478.0 220.1,499.0 222.1,520.0 224.1,542.0 226.1,560.6 228.1,581.4 230.1,598.9 232.1,612.0 234.1,626.3 236.1,631.6 238.1,639.3 240.1,642.0 242.1,646.8 244.1,646.8 246.1,652.2 248.1,648.2 250.1,656.6 252.1,654.8 254.1,654.8 256.1,665.1 258.1,658.6 260.1,661.7 262.1,671.6 264.1,664.5 266.1,659.1 268.1,663.4 270.1,663.4 272.1,667.5 274.1,669.5 276.1,660.9 278.1,667.5 280.1,665.1 282.1,679.4 284.1,672.3 286.1,673.8 288.1,668.8 290.1,676.1 292.1,679.4 294.1,679.4 296.1,683.1 298.1,682.2 300.1,675.3 302.1,682.2 304.1,687.2 306.2,679.4 308.2,688.3 310.2,682.2 312.2,684.1 314.2,697.1 316.2,698.5 318.2,680.9 320.2,695.7 322.2,682.6 324.2,694.4 326.2,690.6 328.2,698.5 330.2,700.0 332.2,717.3 334.2,700.0 336.2,706.7 338.2,698.5 340.2,706.7 342.2,712.7 344.2,697.1 346.2,703.2 348.2,704.9 350.2,708.6 352.2,704.9 354.2,732.2 356.2,704.9 358.2,701.6 360.2,700.0 362.2,757.8 364.2,722.6 366.2,725.5 368.2,728.7 370.2,701.6 372.2,708.6 374.2,715.0 376.2,717.3 378.2,708.6 380.2,725.5 382.2,740.5 384.2,712.7 386.2,740.5 388.2,712.7 390.2,722.6 392.2,722.6 394.2,722.6 396.2,732.2 398.2,745.4 400.2,725.5 402.2,736.1 404.2,732.2 406.2,757.8 408.2,751.1 410.2,740.5 412.2,745.4 414.2,732.2 416.2,736.1 418.2,717.3 420.2,732.2 422.2,725.5 424.2,745.4 426.2,757.8 428.2,736.1 430.2,766.0 432.2,740.5 434.2,745.4 436.2,740.5 438.2,736.1 440.2,736.1 442.2,736.1 444.3,728.7 446.3,745.4 448.3,757.8 450.3,757.8 452.3,725.5 454.3,732.2 456.3,745.4 458.3,745.4 460.3,732.2 462.3,757.8 464.3,736.1 466.3,751.1 468.3,745.4 470.3,751.1 472.3,757.8 474.3,732.2 476.3,766.0 478.3,776.6 480.3,776.6 482.3,766.0 484.3,740.5 486.3,745.4 488.3,745.4 490.3,766.0 492.3,751.1 494.3,776.6 496.3,751.1 498.3,757.8 500.3,766.0 502.3,776.6 504.3,766.0 506.3,745.4 508.3,757.8 510.3,745.4 512.3,791.5 514.3,791.5 516.3,791.5 518.3,757.8 520.3,766.0 522.3,776.6 524.3,776.6 526.3,757.8 528.3,791.5 530.3,757.8 532.3,751.1 534.3,766.0 536.3,766.0 538.3,766.0 540.3,776.6 542.3,776.6 544.3,776.6 546.3,766.0 548.3,766.0 550.3,776.6 552.3,766.0 554.3,817.0 556.3,817.0 558.3,791.5 560.3,776.6 562.3,776.6 564.3,751.1 566.3,766.0 568.3,766.0 570.3,791.5 572.3,817.0 574.3,817.0 576.3,776.6 578.3,757.8 580.3,751.1 582.4,751.1 584.4,776.6 586.4,817.0 588.4,757.8 590.4,776.6 592.4,791.5 594.4,776.6 596.4,817.0 598.4,776.6 600.4,776.6 602.4,791.5 604.4,817.0 606.4,757.8 608.4,766.0 610.4,817.0 612.4,817.0 614.4,817.0 616.4,791.5 618.4,817.0 620.4,776.6 622.4,817.0 624.4,766.0 626.4,817.0 628.4,817.0 630.4,791.5 632.4,791.5 634.4,817.0 636.4,766.0 638.4,757.8 640.4,817.0 642.4,817.0 644.4,791.5 646.4,791.5 648.4,817.0 650.4,766.0 652.4,791.5 654.4,791.5 656.4,766.0 658.4,791.5 660.4,817.0 662.4,791.5 664.4,757.8 666.4,817.0 668.4,766.0 670.4,817.0 672.4,791.5 674.4,791.5 676.4,791.5 678.4,817.0 680.4,791.5 682.4,791.5 684.4,757.8 686.4,776.6 688.4,791.5 690.4,776.6 692.4,817.0 694.4,791.5 696.4,757.8 698.4,766.0 700.4,817.0 702.4,791.5 704.4,817.0" fill="none" stroke="#000080" stroke-width="2.8" stroke-linejoin="round"/>
<polyline points="98.0,817.0 100.0,817.0 102.0,817.0 104.0,817.0 106.0,817.0 108.0,817.0 110.0,817.0 112.0,817.0 114.0,817.0 116.0,817.0 118.0,817.0 120.0,817.0 122.0,817.0 124.0,817.0 126.0,817.0 128.0,817.0 130.0,817.0 132.0,817.0 134.0,817.0 136.0,817.0 138.0,817.0 140.0,817.0 142.0,817.0 144.0,817.0 146.0,817.0 148.0,817.0 150.0,817.0 152.0,817.0 154.0,817.0 156.0,817.0 158.0,817.0 160.0,817.0 162.0,817.0 164.0,817.0 166.0,817.0 168.1,817.0 170.1,817.0 172.1,817.0 174.1,817.0 176.1,817.0 178.1,817.0 180.1,817.0 182.1,817.0 184.1,817.0 186.1,817.0 188.1,817.0 190.1,817.0 192.1,817.0 194.1,817.0 196.1,817.0 198.1,817.0 200.1,817.0 202.1,817.0 204.1,817.0 206.1,817.0 208.1,817.0 210.1,817.0 212.1,817.0 214.1,817.0 216.1,478.0 218.1,547.9 220.1,614.7 222.1,672.3 224.1,695.7 226.1,710.6 228.1,710.6 230.1,708.6 232.1,717.3 234.1,715.0 236.1,701.6 238.1,732.2 240.1,725.5 242.1,717.3 244.1,725.5 246.1,717.3 248.1,719.9 250.1,725.5 252.1,728.7 254.1,745.4 256.1,719.9 258.1,719.9 260.1,732.2 262.1,745.4 264.1,725.5 266.1,722.6 268.1,736.1 270.1,751.1 272.1,740.5 274.1,732.2 276.1,732.2 278.1,745.4 280.1,745.4 282.1,719.9 284.1,740.5 286.1,740.5 288.1,736.1 290.1,745.4 292.1,745.4 294.1,728.7 296.1,728.7 298.1,776.6 300.1,757.8 302.1,751.1 304.1,766.0 306.2,740.5 308.2,766.0 310.2,732.2 312.2,766.0 314.2,732.2 316.2,732.2 318.2,751.1 320.2,740.5 322.2,757.8 324.2,745.4 326.2,740.5 328.2,776.6 330.2,757.8 332.2,766.0 334.2,751.1 336.2,751.1 338.2,731.8 340.2,776.6 342.2,751.1 344.2,776.6 346.2,736.1 348.2,751.1 350.2,757.8 352.2,766.0 354.2,745.4 356.2,766.0 358.2,751.1 360.2,776.6 362.2,766.0 364.2,766.0 366.2,776.6 368.2,776.6 370.2,751.1 372.2,766.0 374.2,791.5 376.2,745.4 378.2,776.6 380.2,757.8 382.2,757.8 384.2,757.8 386.2,766.0 388.2,766.0 390.2,776.6 392.2,766.0 394.2,766.0 396.2,817.0 398.2,791.5 400.2,776.6 402.2,776.6 404.2,766.0 406.2,817.0 408.2,740.8 410.2,757.8 412.2,766.0 414.2,757.8 416.2,791.5 418.2,776.6 420.2,757.8 422.2,766.0 424.2,791.5 426.2,776.6 428.2,766.0 430.2,743.0 432.2,791.5 434.2,817.0 436.2,817.0 438.2,766.0 440.2,817.0 442.2,791.5 444.3,791.5 446.3,766.0 448.3,791.5 450.3,766.0 452.3,791.5 454.3,776.6 456.3,791.5 458.3,766.0 460.3,766.0 462.3,766.0 464.3,817.0 466.3,776.6 468.3,791.5 470.3,776.6 472.3,817.0 474.3,791.5 476.3,776.6 478.3,766.0 480.3,817.0 482.3,766.0 484.3,776.6 486.3,791.5 488.3,791.5 490.3,791.5 492.3,757.8 494.3,791.5 496.3,817.0 498.3,776.6 500.3,776.6 502.3,791.5 504.3,757.8 506.3,817.0 508.3,817.0 510.3,817.0 512.3,817.0 514.3,817.0 516.3,757.8 518.3,751.1 520.3,817.0 522.3,776.6 524.3,776.6 526.3,817.0 528.3,791.5 530.3,791.5 532.3,791.5 534.3,776.6 536.3,776.6 538.3,817.0 540.3,776.6 542.3,791.5 544.3,776.6 546.3,776.6 548.3,752.3 550.3,791.5 552.3,776.6 554.3,791.5 556.3,766.0 558.3,766.0 560.3,766.0 562.3,776.6 564.3,791.5 566.3,791.5 568.3,766.0 570.3,817.0 572.3,766.0 574.3,776.6 576.3,817.0 578.3,817.0 580.3,817.0 582.4,776.6 584.4,791.5 586.4,776.6 588.4,791.5 590.4,817.0 592.4,791.5 594.4,766.0 596.4,757.8 598.4,755.1 600.4,776.6 602.4,791.5 604.4,791.5 606.4,791.5 608.4,791.5 610.4,776.6 612.4,766.0 614.4,817.0 616.4,817.0 618.4,791.5 620.4,817.0 622.4,791.5 624.4,766.0 626.4,791.5 628.4,817.0 630.4,817.0 632.4,817.0 634.4,757.8 636.4,776.6 638.4,776.6 640.4,776.6 642.4,817.0 644.4,791.5 646.4,791.5 648.4,791.5 650.4,817.0 652.4,817.0 654.4,817.0 656.4,766.0 658.4,791.5 660.4,817.0 662.4,791.5 664.4,766.0 666.4,776.6 668.4,791.5 670.4,817.0 672.4,817.0 674.4,817.0 676.4,817.0 678.4,791.5 680.4,817.0 682.4,791.5 684.4,776.6 686.4,817.0 688.4,791.5 690.4,791.5 692.4,817.0 694.4,791.5 696.4,817.0 698.4,817.0 700.4,817.0 702.4,817.0 704.4,776.6" fill="none" stroke="#000" stroke-width="2.8" stroke-linejoin="round"/>
<polyline points="98.0,817.0 100.0,817.0 102.0,817.0 104.0,817.0 106.0,817.0 108.0,817.0 110.0,817.0 112.0,817.0 114.0,817.0 116.0,817.0 118.0,817.0 120.0,817.0 122.0,817.0 124.0,817.0 126.0,817.0 128.0,817.0 130.0,817.0 132.0,817.0 134.0,817.0 136.0,817.0 138.0,817.0 140.0,817.0 142.0,817.0 144.0,817.0 146.0,817.0 148.0,817.0 150.0,817.0 152.0,817.0 154.0,817.0 156.0,817.0 158.0,817.0 160.0,817.0 162.0,817.0 164.0,817.0 166.0,817.0 168.1,817.0 170.1,817.0 172.1,817.0 174.1,817.0 176.1,817.0 178.1,817.0 180.1,817.0 182.1,817.0 184.1,817.0 186.1,817.0 188.1,817.0 190.1,817.0 192.1,817.0 194.1,817.0 196.1,817.0 198.1,817.0 200.1,817.0 202.1,817.0 204.1,817.0 206.1,817.0 208.1,817.0 210.1,817.0 212.1,817.0 214.1,817.0 216.1,817.0 218.1,478.0 220.1,501.6 222.1,525.2 224.1,549.8 226.1,573.8 228.1,592.7 230.1,614.2 232.1,633.3 234.1,643.3 236.1,651.4 238.1,659.6 240.1,664.5 242.1,677.7 244.1,667.5 246.1,669.5 248.1,683.1 250.1,673.0 252.1,675.3 254.1,691.8 256.1,673.8 258.1,674.5 260.1,680.3 262.1,679.4 264.1,684.1 266.1,682.2 268.1,682.2 270.1,688.3 272.1,689.4 274.1,689.4 276.1,693.1 278.1,689.4 280.1,697.1 282.1,690.6 284.1,694.4 286.1,690.6 288.1,698.5 290.1,694.4 292.1,703.2 294.1,690.6 296.1,694.4 298.1,697.1 300.1,715.0 302.1,703.2 304.1,700.0 306.2,710.6 308.2,725.5 310.2,712.7 312.2,715.0 314.2,698.5 316.2,710.6 318.2,717.3 320.2,701.6 322.2,706.7 324.2,725.5 326.2,715.0 328.2,725.5 330.2,725.5 332.2,717.3 334.2,732.2 336.2,722.6 338.2,722.6 340.2,710.6 342.2,736.1 344.2,719.9 346.2,732.2 348.2,736.1 350.2,717.3 352.2,725.5 354.2,722.6 356.2,722.6 358.2,728.7 360.2,757.8 362.2,757.8 364.2,740.5 366.2,740.5 368.2,757.8 370.2,740.5 372.2,728.7 374.2,757.8 376.2,736.1 378.2,751.1 380.2,725.5 382.2,728.7 384.2,757.8 386.2,745.4 388.2,740.5 390.2,751.1 392.2,725.5 394.2,757.8 396.2,723.6 398.2,736.1 400.2,766.0 402.2,745.4 404.2,736.1 406.2,725.9 408.2,745.4 410.2,766.0 412.2,745.4 414.2,732.2 416.2,776.6 418.2,736.1 420.2,757.8 422.2,751.1 424.2,751.1 426.2,757.8 428.2,736.1 430.2,817.0 432.2,776.6 434.2,740.5 436.2,751.1 438.2,757.8 440.2,740.5 442.2,733.1 444.3,757.8 446.3,817.0 448.3,740.5 450.3,757.8 452.3,745.4 454.3,766.0 456.3,817.0 458.3,757.8 460.3,757.8 462.3,817.0 464.3,766.0 466.3,791.5 468.3,776.6 470.3,757.8 472.3,817.0 474.3,757.8 476.3,791.5 478.3,817.0 480.3,751.1 482.3,751.1 484.3,776.6 486.3,817.0 488.3,776.6 490.3,757.8 492.3,776.6 494.3,776.6 496.3,757.8 498.3,741.0 500.3,791.5 502.3,741.4 504.3,791.5 506.3,766.0 508.3,817.0 510.3,776.6 512.3,776.6 514.3,776.6 516.3,766.0 518.3,745.4 520.3,766.0 522.3,766.0 524.3,766.0 526.3,817.0 528.3,776.6 530.3,745.4 532.3,776.6 534.3,776.6 536.3,791.5 538.3,757.8 540.3,757.8 542.3,791.5 544.3,817.0 546.3,766.0 548.3,766.0 550.3,746.0 552.3,766.0 554.3,791.5 556.3,776.6 558.3,776.6 560.3,791.5 562.3,776.6 564.3,791.5 566.3,776.6 568.3,791.5 570.3,817.0 572.3,766.0 574.3,817.0 576.3,757.8 578.3,766.0 580.3,791.5 582.4,766.0 584.4,817.0 586.4,817.0 588.4,817.0 590.4,766.0 592.4,757.8 594.4,791.5 596.4,776.6 598.4,817.0 600.4,757.8 602.4,817.0 604.4,791.5 606.4,817.0 608.4,791.5 610.4,757.8 612.4,776.6 614.4,776.6 616.4,776.6 618.4,791.5 620.4,817.0 622.4,817.0 624.4,776.6 626.4,817.0 628.4,817.0 630.4,817.0 632.4,791.5 634.4,766.0 636.4,817.0 638.4,766.0 640.4,752.2 642.4,766.0 644.4,791.5 646.4,766.0 648.4,791.5 650.4,776.6 652.4,791.5 654.4,791.5 656.4,817.0 658.4,776.6 660.4,791.5 662.4,791.5 664.4,776.6 666.4,757.8 668.4,776.6 670.4,791.5 672.4,791.5 674.4,817.0 676.4,776.6 678.4,776.6 680.4,791.5 682.4,791.5 684.4,776.6 686.4,776.6 688.4,766.0 690.4,776.6 692.4,791.5 694.4,817.0 696.4,817.0 698.4,766.0 700.4,776.6 702.4,817.0 704.4,791.5" fill="none" stroke="#0A87C9" stroke-width="2.8" stroke-linejoin="round"/>
</g>
<path d="M98.00,791.49 H101.20 M98.00,776.56 H101.20 M98.00,765.98 H101.20 M98.00,757.76 H101.20 M98.00,751.05 H101.20 M98.00,745.38 H101.20 M98.00,740.46 H101.20 M98.00,736.13 H101.20 M98.00,706.74 H101.20 M98.00,691.81 H101.20 M98.00,681.23 H101.20 M98.00,673.01 H101.20 M98.00,666.30 H101.20 M98.00,660.63 H101.20 M98.00,655.71 H101.20 M98.00,651.38 H101.20 M98.00,621.99 H101.20 M98.00,607.06 H101.20 M98.00,596.48 H101.20 M98.00,588.26 H101.20 M98.00,581.55 H101.20 M98.00,575.88 H101.20 M98.00,570.96 H101.20 M98.00,566.63 H101.20 M98.00,537.24 H101.20 M98.00,522.31 H101.20 M98.00,511.73 H101.20 M98.00,503.51 H101.20 M98.00,496.80 H101.20 M98.00,491.13 H101.20 M98.00,486.21 H101.20 M98.00,481.88 H101.20 M98.00,452.49 H101.20 M98.00,437.56 H101.20 M98.00,426.98 H101.20" stroke="#000" stroke-width="2.2" fill="none"/>
<path d="M98.00,817.00 H104.80 M98.00,732.25 H104.80 M98.00,647.50 H104.80 M98.00,562.75 H104.80 M98.00,478.00 H104.80" stroke="#000" stroke-width="1.8" fill="none"/>
<path d="M128.32,817.00 V813.20 M158.65,817.00 V813.20 M188.97,817.00 V813.20 M219.30,817.00 V813.20 M249.62,817.00 V813.20 M279.95,817.00 V813.20 M310.27,817.00 V813.20 M340.60,817.00 V813.20 M370.93,817.00 V813.20 M401.25,817.00 V813.20 M431.57,817.00 V813.20 M461.90,817.00 V813.20 M492.22,817.00 V813.20 M522.55,817.00 V813.20 M552.88,817.00 V813.20 M583.20,817.00 V813.20 M613.52,817.00 V813.20 M643.85,817.00 V813.20 M674.17,817.00 V813.20" stroke="#000" stroke-width="2.2" fill="none"/>
<path d="M51.32,826.80 L51.32,806.99 L48.50,806.99 C47.90,808.54 46.38,809.92 44.57,810.89 C43.36,811.52 42.30,811.86 41.30,812.13 L41.30,815.59 C43.36,815.04 45.48,814.13 47.11,812.96 L47.11,826.80 Z" fill="#000" /><text x="56.25" y="826.80" font-size="28.80" font-weight="bold" font-style="normal" textLength="16.83" lengthAdjust="spacingAndGlyphs" fill="#000" >0</text>
<text x="72.23" y="817.90" font-size="19.20" font-weight="bold" font-style="normal" textLength="10.68" lengthAdjust="spacingAndGlyphs" fill="#000" >0</text>
<path d="M51.32,742.05 L51.32,722.24 L48.50,722.24 C47.90,723.79 46.38,725.17 44.57,726.14 C43.36,726.77 42.30,727.11 41.30,727.38 L41.30,730.84 C43.36,730.29 45.48,729.38 47.11,728.21 L47.11,742.05 Z" fill="#000" /><text x="56.25" y="742.05" font-size="28.80" font-weight="bold" font-style="normal" textLength="16.83" lengthAdjust="spacingAndGlyphs" fill="#000" >0</text>
<path d="M82.02,733.15 L82.02,719.94 L79.49,719.94 C78.94,720.97 77.58,721.90 75.94,722.54 C74.85,722.97 73.90,723.19 73.00,723.37 L73.00,725.68 C74.85,725.31 76.76,724.70 78.23,723.93 L78.23,733.15 Z" fill="#000" />
<path d="M51.32,657.30 L51.32,637.49 L48.50,637.49 C47.90,639.04 46.38,640.42 44.57,641.39 C43.36,642.02 42.30,642.36 41.30,642.63 L41.30,646.09 C43.36,645.54 45.48,644.63 47.11,643.46 L47.11,657.30 Z" fill="#000" /><text x="56.25" y="657.30" font-size="28.80" font-weight="bold" font-style="normal" textLength="16.83" lengthAdjust="spacingAndGlyphs" fill="#000" >0</text>
<text x="72.33" y="648.40" font-size="19.20" font-weight="bold" font-style="normal" textLength="10.68" lengthAdjust="spacingAndGlyphs" fill="#000" >2</text>
<path d="M51.32,572.55 L51.32,552.74 L48.50,552.74 C47.90,554.29 46.38,555.67 44.57,556.64 C43.36,557.27 42.30,557.61 41.30,557.88 L41.30,561.34 C43.36,560.79 45.48,559.88 47.11,558.71 L47.11,572.55 Z" fill="#000" /><text x="56.25" y="572.55" font-size="28.80" font-weight="bold" font-style="normal" textLength="16.83" lengthAdjust="spacingAndGlyphs" fill="#000" >0</text>
<text x="72.52" y="563.65" font-size="19.20" font-weight="bold" font-style="normal" textLength="10.68" lengthAdjust="spacingAndGlyphs" fill="#000" >3</text>
<path d="M51.32,487.80 L51.32,467.99 L48.50,467.99 C47.90,469.54 46.38,470.92 44.57,471.89 C43.36,472.52 42.30,472.86 41.30,473.13 L41.30,476.59 C43.36,476.04 45.48,475.13 47.11,473.96 L47.11,487.80 Z" fill="#000" /><text x="56.25" y="487.80" font-size="28.80" font-weight="bold" font-style="normal" textLength="16.83" lengthAdjust="spacingAndGlyphs" fill="#000" >0</text>
<text x="72.71" y="478.90" font-size="19.20" font-weight="bold" font-style="normal" textLength="10.68" lengthAdjust="spacingAndGlyphs" fill="#000" >4</text>
<text x="90.69" y="858.60" font-size="28.50" font-weight="bold" font-style="normal" textLength="15.85" lengthAdjust="spacingAndGlyphs" fill="#000" >0</text>
<text x="242.25" y="858.60" font-size="28.50" font-weight="bold" font-style="normal" textLength="15.85" lengthAdjust="spacingAndGlyphs" fill="#000" >5</text>
<path d="M396.91,858.60 L396.91,838.99 L394.25,838.99 C393.68,840.53 392.25,841.89 390.54,842.85 C389.40,843.48 388.40,843.81 387.46,844.09 L387.46,847.51 C389.40,846.96 391.40,846.06 392.94,844.91 L392.94,858.60 Z" fill="#000" /><text x="401.57" y="858.60" font-size="28.50" font-weight="bold" font-style="normal" textLength="15.88" lengthAdjust="spacingAndGlyphs" fill="#000" >0</text>
<path d="M548.32,858.60 L548.32,838.99 L545.67,838.99 C545.09,840.53 543.67,841.89 541.95,842.85 C540.81,843.48 539.81,843.81 538.87,844.09 L538.87,847.51 C540.81,846.96 542.81,846.06 544.35,844.91 L544.35,858.60 Z" fill="#000" /><text x="552.98" y="858.60" font-size="28.50" font-weight="bold" font-style="normal" textLength="15.88" lengthAdjust="spacingAndGlyphs" fill="#000" >5</text>
<text x="689.35" y="858.60" font-size="28.50" font-weight="bold" font-style="normal" textLength="31.70" lengthAdjust="spacingAndGlyphs" fill="#000" >20</text>
<rect x="98.00" y="418.60" width="606.50" height="398.40" fill="none" stroke="#000" stroke-width="3.6"/>
<text x="750.91" y="429.50" font-size="37.80" font-weight="bold" font-style="normal" textLength="52.46" lengthAdjust="spacing" fill="#000" >(d)</text>
<g transform="translate(758.9,725.3) rotate(-90)"><text x="-2.12" y="0.00" font-size="36.34" font-weight="bold" font-style="normal" textLength="233.33" lengthAdjust="spacingAndGlyphs" fill="#000" >Photon Counts</text></g>
<text x="1014.27" y="907.70" font-size="33.14" font-weight="bold" font-style="normal" textLength="266.47" lengthAdjust="spacing" fill="#000" >Time range (us)</text>
<g transform="matrix(1.0113 0 0 1 736.4 -0.3)"><path d="M 341.5 503.7 C 420 490, 505 495, 528 535" fill="none" stroke="#D87878" stroke-width="11" filter="url(#blur3)" opacity="0.75" transform="translate(1,2.5)"/>
<text x="286.34" y="439.60" font-size="14.97" font-weight="bold" font-style="normal" textLength="106.48" lengthAdjust="spacingAndGlyphs" fill="#000" >Recombination</text>
<ellipse cx="337.90" cy="462.90" rx="27.06" ry="14.52" fill="none" stroke="#FF0000" stroke-width="1.72" stroke-dasharray="5.28 3.96"/>
<circle cx="328.46" cy="463.90" r="8.18" fill="#000080" stroke="#000" stroke-width="1.8479999999999999" />
<line x1="323.18" y1="465.35" x2="333.74" y2="465.35" stroke="#fff" stroke-width="1.584" />
<line x1="328.13" y1="460.07" x2="328.13" y2="470.63" stroke="#fff" stroke-width="1.584" />
<circle cx="347.34" cy="463.90" r="8.18" fill="#000080" stroke="#000" stroke-width="1.8479999999999999" />
<line x1="344.37" y1="465.88" x2="350.31" y2="465.88" stroke="#fff" stroke-width="1.584" />
<line x1="315.80" y1="475.50" x2="283.60" y2="502.70" stroke="#000" stroke-width="1.8" />
<polygon points="279.60,506.10 283.45,498.26 287.97,503.61" fill="#000" />
<line x1="359.70" y1="475.50" x2="393.30" y2="505.50" stroke="#000" stroke-width="1.8" />
<polygon points="397.10,508.90 388.80,506.18 393.46,500.96" fill="#000" />
<text x="231.41" y="515.80" font-size="23.40" font-weight="bold" font-style="normal" textLength="15.23" lengthAdjust="spacingAndGlyphs" fill="#000" >S</text>
<path d="M252.20,520.60 L252.20,509.83 L250.95,509.83 C250.61,510.64 249.85,511.38 248.97,511.91 C248.37,512.27 247.84,512.48 247.40,512.63 L247.40,514.27 C248.40,513.95 249.50,513.40 250.33,512.75 L250.33,520.60 Z" fill="#000" />
<polygon points="272.1,522.5 286.1,522.5 286.1,596 293.1,596 278.6,606.3 264.8,596 272.1,596" fill="#93C8C6"/>
<path d="M 362.5 543.6 C 335 544, 315 539, 302 529" fill="none" stroke="#8FB3F5" stroke-width="16" filter="url(#blur3)" opacity="0.9"/>
<g filter="url(#sh)"><line x1="259.90" y1="513.40" x2="331.10" y2="513.40" stroke="#000080" stroke-width="3.5" /></g>
<path d="M 362.5 543.6 C 335 544, 315 539, 302 529" fill="none" stroke="#0000FF" stroke-width="4"/>
<polygon points="295.70,523.80 307.71,526.47 300.77,535.01" fill="#0000FF" />
<line x1="263.50" y1="559.50" x2="292.60" y2="590.30" stroke="#FF0000" stroke-width="4.2" />
<line x1="292.60" y1="559.50" x2="263.50" y2="590.30" stroke="#FF0000" stroke-width="4.2" />
<g filter="url(#sh)"><line x1="369.40" y1="543.30" x2="440.50" y2="543.30" stroke="#000080" stroke-width="3.5" /></g>
<text x="443.38" y="552.00" font-size="23.40" font-weight="bold" font-style="normal" textLength="13.46" lengthAdjust="spacingAndGlyphs" fill="#000" >T</text>
<path d="M463.50,557.30 L463.50,547.03 L461.92,547.03 C461.47,547.80 460.51,548.50 459.39,549.01 C458.63,549.35 457.97,549.55 457.40,549.70 L457.40,551.26 C458.67,550.96 460.07,550.43 461.12,549.81 L461.12,557.30 Z" fill="#000" />
<path d="M 338.3 515 C 365 515, 380 519, 386 527" fill="none" stroke="#000" stroke-width="2.6"/>
<polygon points="388.60,533.80 381.62,526.55 390.21,523.87" fill="#000" />
<path d="M 341.5 503.7 C 420 490, 505 495, 528 535" fill="none" stroke="#F85656" stroke-width="4.2"/>
<polygon points="533.90,544.30 524.71,536.13 534.92,532.04" fill="#F85656" />
<text x="487.39" y="557.30" font-size="23.40" font-weight="bold" font-style="normal" textLength="13.56" lengthAdjust="spacingAndGlyphs" fill="#000" >S</text>
<path d="M508.60,562.70 L508.60,552.23 L507.02,552.23 C506.57,553.02 505.61,553.73 504.49,554.25 C503.73,554.60 503.07,554.80 502.50,554.95 L502.50,556.54 C503.77,556.23 505.17,555.70 506.22,555.07 L506.22,562.70 Z" fill="#000" />
<polygon points="536.2,568 565.3,568 565.3,611.4 579,611.4 550.7,631.1 522.6,611.4 536.2,611.4" fill="#FDE49E"/>
<g filter="url(#sh)"><line x1="518.60" y1="560.40" x2="589.80" y2="560.40" stroke="#000" stroke-width="3.3" /></g>
<g filter="url(#sh2)"><path d="M 442.8 557.3 C 455 578, 490 588, 530 588 S 565 586, 575 585.7" fill="none" stroke="#4A4A4A" stroke-width="2" stroke-dasharray="5 3"/><polygon points="581.30,585.60 573.41,589.34 573.20,582.34" fill="#4A4A4A" /></g>
<g filter="url(#sh)"><line x1="597.30" y1="583.50" x2="668.20" y2="583.50" stroke="#000" stroke-width="3.3" /></g>
<text x="674.48" y="592.30" font-size="23.40" font-weight="bold" font-style="normal" textLength="13.36" lengthAdjust="spacingAndGlyphs" fill="#000" >T</text>
<path d="M694.50,597.50 L694.50,587.03 L692.97,587.03 C692.54,587.82 691.61,588.53 690.52,589.05 C689.79,589.40 689.15,589.60 688.60,589.75 L688.60,591.34 C689.83,591.03 691.18,590.50 692.20,589.87 L692.20,597.50 Z" fill="#000" />
<g filter="url(#sh)"><line x1="264.60" y1="641.40" x2="677.30" y2="641.40" stroke="#000" stroke-width="3.3" /></g>
<text x="311.91" y="672.70" font-size="16.72" font-weight="bold" font-style="normal" textLength="101.93" lengthAdjust="spacing" fill="#000" >DBA-DTMCz</text>
<text x="543.58" y="671.40" font-size="16.50" font-weight="bold" font-style="italic" textLength="8.27" lengthAdjust="spacingAndGlyphs" fill="#000" >v</text>
<text x="552.32" y="671.40" font-size="17.15" font-weight="bold" font-style="normal" textLength="66.77" lengthAdjust="spacingAndGlyphs" fill="#000" >-DABNA</text>
<text x="394.98" y="528.70" font-size="17.50" font-weight="normal" font-style="italic" textLength="7.33" lengthAdjust="spacingAndGlyphs" fill="#000" stroke="#000" stroke-width="0.6">k</text>
<text x="403.28" y="532.00" font-size="11.20" font-weight="normal" font-style="normal" textLength="18.94" lengthAdjust="spacingAndGlyphs" fill="#000" >ISC</text>
<text x="423.66" y="528.70" font-size="17.00" font-weight="normal" font-style="normal" textLength="4.72" lengthAdjust="spacingAndGlyphs" fill="#000" stroke="#000" stroke-width="0.6">:</text>
<path d="M434.21,528.70 L434.21,516.32 L433.19,516.32 C432.76,517.20 431.97,518.01 431.10,518.63 C430.49,519.07 429.97,519.36 429.60,519.53 L429.60,521.00 C430.58,520.61 431.80,519.88 432.67,519.10 L432.67,528.70 Z" fill="#000" stroke="#000" stroke-width="0.6"/><text x="437.40" y="528.70" font-size="18.00" font-weight="normal" font-style="normal" textLength="32.98" lengthAdjust="spacingAndGlyphs" fill="#000" stroke="#000" stroke-width="0.6">.37x</text><path d="M476.89,528.70 L476.89,516.32 L475.88,516.32 C475.44,517.20 474.65,518.01 473.78,518.63 C473.17,519.07 472.65,519.36 472.28,519.53 L472.28,521.00 C473.26,520.61 474.48,519.88 475.35,519.10 L475.35,528.70 Z" fill="#000" stroke="#000" stroke-width="0.6"/><text x="480.08" y="528.70" font-size="18.00" font-weight="normal" font-style="normal" textLength="9.70" lengthAdjust="spacingAndGlyphs" fill="#000" stroke="#000" stroke-width="0.6">0</text>
<text x="489.83" y="522.30" font-size="11.00" font-weight="normal" font-style="normal" textLength="6.36" lengthAdjust="spacingAndGlyphs" fill="#000" >7</text>
<text x="474.42" y="492.50" font-size="21.00" font-weight="bold" font-style="italic" textLength="10.36" lengthAdjust="spacingAndGlyphs" fill="#FF5050" >k</text>
<text x="483.92" y="496.80" font-size="13.70" font-weight="bold" font-style="normal" textLength="35.53" lengthAdjust="spacingAndGlyphs" fill="#FF5050" >FRET</text>
<text x="518.18" y="492.50" font-size="21.00" font-weight="bold" font-style="normal" textLength="6.99" lengthAdjust="spacingAndGlyphs" fill="#FF5050" >:</text>
<text x="529.11" y="492.50" font-size="21.80" font-weight="bold" font-style="normal" textLength="49.21" lengthAdjust="spacingAndGlyphs" fill="#FF5050" >4.26x</text><path d="M586.04,492.50 L586.04,477.50 L584.21,477.50 C583.82,478.67 582.83,479.72 581.65,480.46 C580.87,480.94 580.18,481.19 579.53,481.40 L579.53,484.02 C580.87,483.60 582.24,482.91 583.30,482.03 L583.30,492.50 Z" fill="#FF5050" /><text x="589.25" y="492.50" font-size="21.80" font-weight="bold" font-style="normal" textLength="10.94" lengthAdjust="spacingAndGlyphs" fill="#FF5050" >0</text>
<text x="600.26" y="483.10" font-size="11.00" font-weight="bold" font-style="normal" textLength="6.09" lengthAdjust="spacingAndGlyphs" fill="#FF5050" >7</text>
<text x="303.56" y="574.70" font-size="18.50" font-weight="bold" font-style="italic" textLength="8.82" lengthAdjust="spacingAndGlyphs" fill="#0000F0" >k</text>
<text x="312.31" y="577.80" font-size="10.60" font-weight="bold" font-style="normal" textLength="27.02" lengthAdjust="spacing" fill="#0000F0" >RISC</text>
<text x="339.37" y="574.70" font-size="19.00" font-weight="bold" font-style="normal" textLength="6.33" lengthAdjust="spacingAndGlyphs" fill="#0000F0" >:</text>
<text x="350.68" y="574.70" font-size="19.50" font-weight="bold" font-style="normal" textLength="14.68" lengthAdjust="spacingAndGlyphs" fill="#0000F0" >2.</text><path d="M372.28,574.70 L372.28,561.28 L370.64,561.28 C370.29,562.33 369.41,563.27 368.35,563.93 C367.65,564.36 367.03,564.58 366.45,564.77 L366.45,567.11 C367.65,566.74 368.88,566.12 369.83,565.33 L369.83,574.70 Z" fill="#0000F0" /><text x="375.15" y="574.70" font-size="19.50" font-weight="bold" font-style="normal" textLength="19.58" lengthAdjust="spacingAndGlyphs" fill="#0000F0" >0x</text><path d="M401.64,574.70 L401.64,561.28 L400.00,561.28 C399.65,562.33 398.77,563.27 397.72,563.93 C397.01,564.36 396.40,564.58 395.82,564.77 L395.82,567.11 C397.01,566.74 398.24,566.12 399.19,565.33 L399.19,574.70 Z" fill="#0000F0" /><text x="404.51" y="574.70" font-size="19.50" font-weight="bold" font-style="normal" textLength="9.79" lengthAdjust="spacingAndGlyphs" fill="#0000F0" >0</text>
<text x="413.96" y="568.40" font-size="12.00" font-weight="bold" font-style="normal" textLength="5.39" lengthAdjust="spacingAndGlyphs" fill="#0000F0" >6</text>
<text x="243.89" y="626.00" font-size="17.50" font-weight="bold" font-style="italic" textLength="7.67" lengthAdjust="spacingAndGlyphs" fill="#168884" >k</text>
<text x="251.88" y="629.60" font-size="11.00" font-weight="bold" font-style="normal" textLength="5.52" lengthAdjust="spacingAndGlyphs" fill="#168884" >r</text>
<text x="258.26" y="619.60" font-size="11.00" font-weight="bold" font-style="normal" textLength="5.45" lengthAdjust="spacingAndGlyphs" fill="#168884" >s</text>
<text x="263.76" y="626.00" font-size="17.50" font-weight="bold" font-style="normal" textLength="5.83" lengthAdjust="spacingAndGlyphs" fill="#168884" >:</text>
<path d="M281.45,626.00 L281.45,613.48 L279.83,613.48 C279.49,614.46 278.62,615.33 277.58,615.94 C276.88,616.35 276.27,616.56 275.70,616.73 L275.70,618.92 C276.88,618.57 278.10,617.99 279.03,617.26 L279.03,626.00 Z" fill="#168884" /><text x="284.28" y="626.00" font-size="18.20" font-weight="bold" font-style="normal" textLength="33.80" lengthAdjust="spacingAndGlyphs" fill="#168884" >.42x</text><path d="M324.90,626.00 L324.90,613.48 L323.29,613.48 C322.94,614.46 322.07,615.33 321.03,615.94 C320.33,616.35 319.73,616.56 319.15,616.73 L319.15,618.92 C320.33,618.57 321.55,617.99 322.49,617.26 L322.49,626.00 Z" fill="#168884" /><text x="327.73" y="626.00" font-size="18.20" font-weight="bold" font-style="normal" textLength="9.66" lengthAdjust="spacingAndGlyphs" fill="#168884" >0</text>
<text x="337.01" y="619.50" font-size="10.50" font-weight="bold" font-style="normal" textLength="5.39" lengthAdjust="spacingAndGlyphs" fill="#168884" >7</text>
<text x="410.48" y="607.00" font-size="17.50" font-weight="normal" font-style="italic" textLength="7.24" lengthAdjust="spacingAndGlyphs" fill="#000" stroke="#000" stroke-width="0.6">k</text>
<text x="418.20" y="610.90" font-size="11.20" font-weight="normal" font-style="normal" textLength="24.83" lengthAdjust="spacing" fill="#000" >DET</text>
<text x="443.06" y="607.00" font-size="17.00" font-weight="normal" font-style="normal" textLength="4.72" lengthAdjust="spacingAndGlyphs" fill="#000" stroke="#000" stroke-width="0.6">:</text>
<path d="M452.51,607.00 L452.51,594.62 L451.45,594.62 C451.00,595.50 450.18,596.31 449.27,596.93 C448.63,597.37 448.08,597.66 447.70,597.83 L447.70,599.30 C448.72,598.91 449.99,598.18 450.90,597.40 L450.90,607.00 Z" fill="#000" stroke="#000" stroke-width="0.6"/><text x="455.84" y="607.00" font-size="18.00" font-weight="normal" font-style="normal" textLength="34.42" lengthAdjust="spacingAndGlyphs" fill="#000" stroke="#000" stroke-width="0.6">.70x</text><path d="M497.05,607.00 L497.05,594.62 L495.99,594.62 C495.54,595.50 494.72,596.31 493.81,596.93 C493.17,597.37 492.63,597.66 492.24,597.83 L492.24,599.30 C493.26,598.91 494.54,598.18 495.45,597.40 L495.45,607.00 Z" fill="#000" stroke="#000" stroke-width="0.6"/><text x="500.39" y="607.00" font-size="18.00" font-weight="normal" font-style="normal" textLength="10.13" lengthAdjust="spacingAndGlyphs" fill="#000" stroke="#000" stroke-width="0.6">0</text>
<text x="510.00" y="600.30" font-size="11.00" font-weight="normal" font-style="normal" textLength="5.62" lengthAdjust="spacingAndGlyphs" fill="#000" >5</text></g>
<line x1="1220.90" y1="694.80" x2="1262.00" y2="694.80" stroke="#F77F7F" stroke-width="2.8" />
<line x1="1220.90" y1="716.60" x2="1262.00" y2="716.60" stroke="#000" stroke-width="2.8" />
<line x1="1220.90" y1="739.00" x2="1262.00" y2="739.00" stroke="#7F7FC6" stroke-width="2.8" />
<text x="1273.35" y="701.00" font-size="18.17" font-weight="bold" font-style="normal" textLength="154.93" lengthAdjust="spacing" fill="#000" >30% DBA-DTMCz</text>
<path d="M1279.81,722.80 L1279.81,710.30 L1278.12,710.30 C1277.76,711.28 1276.85,712.15 1275.76,712.76 C1275.04,713.16 1274.40,713.37 1273.80,713.55 L1273.80,715.73 C1275.04,715.38 1276.31,714.80 1277.29,714.07 L1277.29,722.80 Z" fill="#000" /><text x="1283.21" y="722.80" font-size="18.17" font-weight="bold" font-style="normal" textLength="106.84" lengthAdjust="spacing" fill="#000" >% v-DABNA</text>
<text x="1272.53" y="745.30" font-size="17.88" font-weight="bold" font-style="normal" textLength="26.01" lengthAdjust="spacingAndGlyphs" fill="#000" >HF</text>
<g clip-path="url(#clipd)">
<polyline points="832.5,816.8 840.5,816.8 854.5,791.2 856.7,791.2 859.3,763.8 862.2,816.8 901.1,816.8 902.9,775.0 905.1,816.8 914.9,816.8 917.0,791.2 919.1,816.8 924.0,816.8 926.2,776.2 928.3,816.8 946.4,816.8 949.7,816.8 951.7,665.5 953.7,476.4 955.8,522.9 957.8,564.6 959.8,585.0 961.8,595.8 963.8,597.7 965.9,599.5 967.9,607.2 969.9,608.0 971.9,610.2 973.9,612.4 976.0,614.7 978.0,622.7 980.0,621.7 982.0,622.3 984.0,626.1 986.1,630.4 988.1,626.6 990.1,633.9 992.1,636.9 994.1,632.6 996.2,642.7 998.2,644.4 1000.2,639.9 1002.2,642.4 1004.3,652.6 1006.3,647.0 1008.3,657.2 1010.3,660.9 1012.3,657.2 1014.4,670.1 1016.4,668.7 1018.4,665.5 1020.4,661.4 1022.4,669.4 1024.5,673.0 1026.5,666.7 1028.5,667.4 1030.5,672.2 1032.5,681.4 1034.6,670.1 1036.6,675.3 1038.6,677.8 1040.6,681.4 1042.6,693.6 1044.7,680.5 1046.7,687.6 1048.7,687.6 1050.7,687.6 1052.7,692.3 1054.8,697.8 1056.8,702.6 1058.8,685.5 1060.8,695.0 1062.8,696.4 1064.9,712.1 1066.9,702.6 1068.9,697.8 1070.9,692.0 1073.0,697.8 1075.0,728.2 1077.0,706.1 1079.0,712.1 1081.0,722.0 1083.1,719.3 1085.1,702.6 1087.1,706.1 1089.1,716.7 1091.1,706.1 1093.2,704.3 1095.2,725.0 1097.2,719.3 1099.2,725.0 1101.2,716.7 1103.3,725.0 1105.3,714.3 1107.3,731.7 1109.3,731.7 1111.3,722.0 1113.4,716.7 1115.4,744.9 1117.4,735.6 1119.4,716.7 1121.4,731.7 1123.5,716.7 1125.5,744.9 1127.5,735.6 1129.5,731.7 1131.5,739.9 1133.6,728.2 1135.6,722.0 1137.6,719.3 1139.6,715.9 1141.7,744.9 1143.7,765.6 1145.7,739.9 1147.7,744.9 1149.7,757.3 1151.8,718.7 1153.8,735.6 1155.8,735.6 1157.8,765.6 1159.8,731.7 1161.9,744.9 1163.9,744.9 1165.9,757.3 1167.9,728.2 1169.9,757.3 1172.0,739.9 1174.0,776.2 1176.0,757.3 1178.0,765.6 1180.0,750.6 1182.1,750.6 1184.1,744.9 1186.1,744.9 1188.1,735.6 1190.1,744.9 1192.2,765.6 1194.2,731.7 1196.2,744.9 1198.2,735.6 1200.2,728.2 1202.3,744.9 1204.3,750.6 1206.3,776.2 1208.3,750.6 1210.4,750.6 1212.4,757.3 1214.4,739.9 1216.4,739.9 1218.4,757.3 1220.5,750.6 1222.5,776.2 1224.5,757.3 1226.5,776.2 1228.5,757.3 1230.6,765.6 1232.6,816.8 1234.6,757.3 1236.6,757.3 1238.6,750.6 1240.7,750.6 1242.7,791.2 1244.7,765.6 1246.7,757.3 1248.7,735.6 1250.8,744.9 1252.8,816.8 1254.8,776.2 1256.8,744.9 1258.8,776.2 1260.9,791.2 1262.9,765.6 1264.9,791.2 1266.9,765.6 1268.9,765.6 1271.0,776.2 1273.0,744.9 1275.0,765.6 1277.0,765.6 1279.1,776.2 1281.1,816.8 1283.1,776.2 1285.1,816.8 1287.1,791.2 1289.2,765.6 1291.2,765.6 1293.2,816.8 1295.2,791.2 1297.2,791.2 1299.3,765.6 1301.3,791.2 1303.3,791.2 1305.3,776.2 1307.3,757.3 1309.4,765.6 1311.4,776.2 1313.4,816.8 1315.4,816.8 1317.4,776.2 1319.5,816.8 1321.5,765.6 1323.5,816.8 1325.5,776.2 1327.5,757.3 1329.6,816.8 1331.6,791.2 1333.6,757.3 1335.6,776.2 1337.6,791.2 1339.7,757.3 1341.7,765.6 1343.7,776.2 1345.7,757.3 1347.8,816.8 1349.8,776.2 1351.8,791.2 1353.8,791.2 1355.8,757.3 1357.9,791.2 1359.9,776.2 1361.9,765.6 1363.9,776.2 1365.9,791.2 1368.0,791.2 1370.0,791.2 1372.0,791.2 1374.0,750.6 1376.0,791.2 1378.1,816.8 1380.1,791.2 1382.1,776.2 1384.1,757.3 1386.1,791.2 1388.2,816.8 1390.2,816.8 1392.2,765.6 1394.2,816.8 1396.2,791.2 1398.3,776.2 1400.3,757.3 1402.3,791.2 1404.3,791.2 1406.3,776.2 1408.4,816.8 1410.4,791.2 1412.4,816.8 1414.4,791.2 1416.5,816.8 1418.5,816.8 1420.5,776.2 1422.5,765.6 1424.5,816.8 1426.6,816.8 1428.6,791.2 1430.6,791.2 1432.6,791.2 1434.6,776.2 1436.7,765.6 1438.7,791.2 1440.7,776.2 1442.7,750.6 1444.7,816.8" fill="none" stroke="#F77F7F" stroke-width="2.8" stroke-linejoin="round"/>
<polyline points="832.5,816.8 834.5,816.8 836.5,816.8 838.6,816.8 840.6,816.8 842.6,816.8 844.6,816.8 846.6,816.8 848.7,816.8 850.7,816.8 852.7,816.8 854.7,816.8 856.7,816.8 858.8,816.8 860.8,816.8 862.8,816.8 864.8,816.8 866.9,816.8 868.9,816.8 870.9,816.8 872.9,816.8 874.9,816.8 877.0,816.8 879.0,816.8 881.0,816.8 883.0,816.8 885.0,816.8 887.1,816.8 889.1,816.8 891.1,816.8 893.1,816.8 895.1,816.8 897.2,816.8 899.2,816.8 901.2,816.8 903.2,816.8 905.2,816.8 907.3,816.8 909.3,816.8 911.3,816.8 913.3,816.8 915.3,816.8 917.4,816.8 919.4,816.8 921.4,816.8 923.4,816.8 925.4,816.8 927.5,816.8 929.5,816.8 931.5,816.8 933.5,816.8 935.6,816.8 937.6,816.8 939.6,816.8 941.6,816.8 943.6,816.8 945.7,816.8 947.7,816.8 949.7,816.8 951.7,816.8 953.7,514.2 955.8,708.0 957.8,699.3 959.8,700.9 961.8,706.1 963.8,695.0 965.9,712.1 967.9,719.3 969.9,710.0 971.9,735.6 973.9,710.0 976.0,719.3 978.0,710.0 980.0,722.0 982.0,725.0 984.0,728.2 986.1,728.2 988.1,714.3 990.1,757.3 992.1,735.6 994.1,735.6 996.2,739.9 998.2,714.3 1000.2,725.0 1002.2,757.3 1004.3,716.7 1006.3,722.0 1008.3,719.3 1010.3,731.7 1012.3,722.0 1014.4,731.7 1016.4,757.3 1018.4,735.6 1020.4,750.6 1022.4,750.6 1024.5,728.2 1026.5,739.9 1028.5,735.6 1030.5,735.6 1032.5,739.9 1034.6,744.9 1036.6,725.0 1038.6,735.6 1040.6,744.9 1042.6,735.6 1044.7,750.6 1046.7,750.6 1048.7,776.2 1050.7,739.9 1052.7,750.6 1054.8,739.9 1056.8,776.2 1058.8,744.9 1060.8,791.2 1062.8,750.6 1064.9,757.3 1066.9,757.3 1068.9,791.2 1070.9,776.2 1073.0,739.9 1075.0,765.6 1077.0,739.9 1079.0,744.9 1081.0,776.2 1083.1,757.3 1085.1,776.2 1087.1,757.3 1089.1,765.6 1091.1,757.3 1093.2,776.2 1095.2,791.2 1097.2,735.6 1099.2,765.6 1101.2,765.6 1103.3,750.6 1105.3,739.9 1107.3,750.6 1109.3,757.3 1111.3,750.6 1113.4,744.9 1115.4,733.3 1117.4,733.5 1119.4,816.8 1121.4,750.6 1123.5,735.6 1125.5,735.6 1127.5,750.6 1129.5,791.2 1131.5,757.3 1133.6,735.6 1135.6,765.6 1137.6,816.8 1139.6,791.2 1141.7,791.2 1143.7,757.3 1145.7,744.9 1147.7,816.8 1149.7,776.2 1151.8,791.2 1153.8,757.3 1155.8,776.2 1157.8,757.3 1159.8,776.2 1161.9,776.2 1163.9,776.2 1165.9,757.3 1167.9,757.3 1169.9,791.2 1172.0,765.6 1174.0,765.6 1176.0,816.8 1178.0,765.6 1180.0,791.2 1182.1,776.2 1184.1,757.3 1186.1,757.3 1188.1,816.8 1190.1,757.3 1192.2,816.8 1194.2,740.9 1196.2,757.3 1198.2,750.6 1200.2,776.2 1202.3,750.6 1204.3,776.2 1206.3,750.6 1208.3,750.6 1210.4,742.2 1212.4,791.2 1214.4,791.2 1216.4,791.2 1218.4,765.6 1220.5,757.3 1222.5,757.3 1224.5,791.2 1226.5,757.3 1228.5,765.6 1230.6,791.2 1232.6,765.6 1234.6,791.2 1236.6,816.8 1238.6,791.2 1240.7,776.2 1242.7,816.8 1244.7,776.2 1246.7,750.6 1248.7,776.2 1250.8,765.6 1252.8,776.2 1254.8,776.2 1256.8,776.2 1258.8,816.8 1260.9,776.2 1262.9,745.9 1264.9,816.8 1266.9,757.3 1268.9,765.6 1271.0,765.6 1273.0,776.2 1275.0,816.8 1277.0,816.8 1279.1,765.6 1281.1,776.2 1283.1,791.2 1285.1,791.2 1287.1,757.3 1289.2,776.2 1291.2,765.6 1293.2,816.8 1295.2,816.8 1297.2,765.6 1299.3,765.6 1301.3,791.2 1303.3,816.8 1305.3,765.6 1307.3,791.2 1309.4,776.2 1311.4,749.0 1313.4,816.8 1315.4,757.3 1317.4,776.2 1319.5,816.8 1321.5,791.2 1323.5,765.6 1325.5,765.6 1327.5,816.8 1329.6,791.2 1331.6,765.6 1333.6,791.2 1335.6,791.2 1337.6,791.2 1339.7,816.8 1341.7,776.2 1343.7,776.2 1345.7,765.6 1347.8,816.8 1349.8,816.8 1351.8,757.3 1353.8,765.6 1355.8,816.8 1357.9,791.2 1359.9,816.8 1361.9,791.2 1363.9,791.2 1365.9,791.2 1368.0,791.2 1370.0,816.8 1372.0,816.8 1374.0,816.8 1376.0,791.2 1378.1,816.8 1380.1,816.8 1382.1,816.8 1384.1,752.9 1386.1,776.2 1388.2,816.8 1390.2,816.8 1392.2,776.2 1394.2,791.2 1396.2,791.2 1398.3,816.8 1400.3,816.8 1402.3,816.8 1404.3,757.3 1406.3,791.2 1408.4,816.8 1410.4,776.2 1412.4,816.8 1414.4,816.8 1416.5,816.8 1418.5,816.8 1420.5,816.8 1422.5,765.6 1424.5,776.2 1426.6,816.8 1428.6,791.2 1430.6,776.2 1432.6,791.2 1434.6,816.8 1436.7,765.6 1438.7,816.8 1440.7,816.8 1442.7,816.8 1444.7,816.8" fill="none" stroke="#000" stroke-width="2.8" stroke-linejoin="round"/>
<polyline points="832.5,816.8 834.5,816.8 836.5,816.8 838.6,816.8 840.6,816.8 842.6,816.8 844.6,816.8 846.6,816.8 848.7,816.8 850.7,816.8 852.7,816.8 854.7,816.8 856.7,816.8 858.8,816.8 860.8,816.8 862.8,816.8 864.8,816.8 866.9,816.8 868.9,816.8 870.9,816.8 872.9,816.8 874.9,816.8 877.0,816.8 879.0,816.8 881.0,816.8 883.0,816.8 885.0,816.8 887.1,816.8 889.1,816.8 891.1,816.8 893.1,816.8 895.1,816.8 897.2,816.8 899.2,816.8 901.2,816.8 903.2,816.8 905.2,816.8 907.3,816.8 909.3,816.8 911.3,816.8 913.3,816.8 915.3,816.8 917.4,816.8 919.4,816.8 921.4,816.8 923.4,816.8 925.4,816.8 927.5,816.8 929.5,816.8 931.5,816.8 933.5,816.8 935.6,816.8 937.6,816.8 939.6,816.8 941.6,816.8 943.6,816.8 945.7,816.8 947.7,816.8 949.7,816.8 951.7,816.8 953.7,816.8 955.8,476.4 957.8,542.3 959.8,596.8 961.8,628.8 963.8,645.9 965.9,637.2 967.9,637.2 969.9,643.4 971.9,640.4 973.9,645.2 976.0,653.5 978.0,661.4 980.0,657.2 982.0,657.2 984.0,657.7 986.1,670.1 988.1,664.9 990.1,658.2 992.1,665.5 994.1,660.9 996.2,668.7 998.2,676.9 1000.2,671.5 1002.2,686.5 1004.3,670.1 1006.3,689.9 1008.3,674.5 1010.3,686.5 1012.3,682.4 1014.4,692.3 1016.4,682.4 1018.4,688.7 1020.4,695.0 1022.4,695.0 1024.5,689.9 1026.5,687.6 1028.5,702.6 1030.5,708.0 1032.5,702.6 1034.6,692.3 1036.6,695.0 1038.6,699.3 1040.6,710.0 1042.6,695.0 1044.7,710.0 1046.7,708.0 1048.7,714.3 1050.7,697.2 1052.7,704.3 1054.8,704.3 1056.8,716.7 1058.8,716.7 1060.8,722.0 1062.8,725.0 1064.9,725.0 1066.9,719.3 1068.9,731.7 1070.9,725.0 1073.0,728.2 1075.0,722.0 1077.0,725.0 1079.0,757.3 1081.0,719.3 1083.1,731.7 1085.1,728.2 1087.1,739.9 1089.1,750.6 1091.1,765.6 1093.2,725.0 1095.2,735.6 1097.2,722.0 1099.2,739.9 1101.2,744.9 1103.3,725.0 1105.3,744.9 1107.3,750.6 1109.3,728.2 1111.3,757.3 1113.4,719.3 1115.4,744.9 1117.4,776.2 1119.4,791.2 1121.4,757.3 1123.5,757.3 1125.5,735.6 1127.5,750.6 1129.5,744.9 1131.5,744.9 1133.6,757.3 1135.6,739.9 1137.6,765.6 1139.6,744.9 1141.7,757.3 1143.7,791.2 1145.7,757.3 1147.7,744.9 1149.7,744.9 1151.8,791.2 1153.8,744.9 1155.8,750.6 1157.8,776.2 1159.8,776.2 1161.9,776.2 1163.9,757.3 1165.9,731.2 1167.9,816.8 1169.9,735.6 1172.0,744.9 1174.0,735.6 1176.0,757.3 1178.0,750.6 1180.0,765.6 1182.1,739.9 1184.1,816.8 1186.1,816.8 1188.1,750.6 1190.1,776.2 1192.2,765.6 1194.2,765.6 1196.2,776.2 1198.2,765.6 1200.2,765.6 1202.3,816.8 1204.3,765.6 1206.3,757.3 1208.3,765.6 1210.4,757.3 1212.4,791.2 1214.4,776.2 1216.4,757.3 1218.4,757.3 1220.5,765.6 1222.5,765.6 1224.5,750.6 1226.5,750.6 1228.5,791.2 1230.6,776.2 1232.6,776.2 1234.6,757.3 1236.6,791.2 1238.6,816.8 1240.7,776.2 1242.7,757.3 1244.7,816.8 1246.7,757.3 1248.7,816.8 1250.8,816.8 1252.8,791.2 1254.8,757.3 1256.8,765.6 1258.8,791.2 1260.9,776.2 1262.9,765.6 1264.9,765.6 1266.9,776.2 1268.9,816.8 1271.0,816.8 1273.0,791.2 1275.0,776.2 1277.0,765.6 1279.1,776.2 1281.1,791.2 1283.1,816.8 1285.1,757.3 1287.1,816.8 1289.2,791.2 1291.2,816.8 1293.2,765.6 1295.2,750.6 1297.2,791.2 1299.3,816.8 1301.3,816.8 1303.3,816.8 1305.3,791.2 1307.3,765.6 1309.4,776.2 1311.4,791.2 1313.4,765.6 1315.4,791.2 1317.4,816.8 1319.5,776.2 1321.5,816.8 1323.5,791.2 1325.5,791.2 1327.5,791.2 1329.6,791.2 1331.6,753.1 1333.6,791.2 1335.6,791.2 1337.6,791.2 1339.7,791.2 1341.7,757.3 1343.7,776.2 1345.7,754.3 1347.8,765.6 1349.8,754.6 1351.8,816.8 1353.8,757.3 1355.8,791.2 1357.9,776.2 1359.9,816.8 1361.9,816.8 1363.9,816.8 1365.9,776.2 1368.0,816.8 1370.0,791.2 1372.0,791.2 1374.0,791.2 1376.0,816.8 1378.1,765.6 1380.1,791.2 1382.1,816.8 1384.1,816.8 1386.1,791.2 1388.2,791.2 1390.2,816.8 1392.2,816.8 1394.2,776.2 1396.2,816.8 1398.3,816.8 1400.3,816.8 1402.3,816.8 1404.3,776.2 1406.3,791.2 1408.4,791.2 1410.4,816.8 1412.4,791.2 1414.4,816.8 1416.5,816.8 1418.5,791.2 1420.5,816.8 1422.5,816.8 1424.5,816.8 1426.6,791.2 1428.6,791.2 1430.6,816.8 1432.6,776.2 1434.6,816.8 1436.7,791.2 1438.7,816.8 1440.7,776.2 1442.7,765.6 1444.7,765.6" fill="none" stroke="#7F7FC6" stroke-width="2.8" stroke-linejoin="round"/>
</g>
<path d="M832.50,791.18 H835.70 M832.50,776.20 H835.70 M832.50,765.56 H835.70 M832.50,757.32 H835.70 M832.50,750.58 H835.70 M832.50,744.88 H835.70 M832.50,739.95 H835.70 M832.50,735.59 H835.70 M832.50,706.08 H835.70 M832.50,691.10 H835.70 M832.50,680.46 H835.70 M832.50,672.22 H835.70 M832.50,665.48 H835.70 M832.50,659.78 H835.70 M832.50,654.85 H835.70 M832.50,650.49 H835.70 M832.50,620.98 H835.70 M832.50,606.00 H835.70 M832.50,595.36 H835.70 M832.50,587.12 H835.70 M832.50,580.38 H835.70 M832.50,574.68 H835.70 M832.50,569.75 H835.70 M832.50,565.39 H835.70 M832.50,535.88 H835.70 M832.50,520.90 H835.70 M832.50,510.26 H835.70 M832.50,502.02 H835.70 M832.50,495.28 H835.70 M832.50,489.58 H835.70 M832.50,484.65 H835.70 M832.50,480.29 H835.70 M832.50,450.78 H835.70 M832.50,435.80 H835.70 M832.50,425.16 H835.70" stroke="#000" stroke-width="2.2" fill="none"/>
<path d="M832.50,816.80 H839.30 M832.50,731.70 H839.30 M832.50,646.60 H839.30 M832.50,561.50 H839.30 M832.50,476.40 H839.30" stroke="#000" stroke-width="1.8" fill="none"/>
<path d="M863.12,816.80 V813.00 M893.73,816.80 V813.00 M924.35,816.80 V813.00 M954.96,816.80 V813.00 M985.58,816.80 V813.00 M1016.19,816.80 V813.00 M1046.81,816.80 V813.00 M1077.42,816.80 V813.00 M1108.03,816.80 V813.00 M1138.65,816.80 V813.00 M1169.26,816.80 V813.00 M1199.88,816.80 V813.00 M1230.49,816.80 V813.00 M1261.11,816.80 V813.00 M1291.72,816.80 V813.00 M1322.34,816.80 V813.00 M1352.95,816.80 V813.00 M1383.57,816.80 V813.00 M1414.18,816.80 V813.00" stroke="#000" stroke-width="2.2" fill="none"/>
<path d="M784.99,826.60 L784.99,806.79 L782.27,806.79 C781.68,808.34 780.22,809.72 778.46,810.69 C777.29,811.32 776.27,811.66 775.30,811.93 L775.30,815.39 C777.29,814.84 779.34,813.93 780.92,812.76 L780.92,826.60 Z" fill="#000" /><text x="789.76" y="826.60" font-size="28.80" font-weight="bold" font-style="normal" textLength="16.28" lengthAdjust="spacingAndGlyphs" fill="#000" >0</text>
<text x="805.23" y="817.70" font-size="19.20" font-weight="bold" font-style="normal" textLength="10.68" lengthAdjust="spacingAndGlyphs" fill="#000" >0</text>
<path d="M784.99,741.50 L784.99,721.69 L782.27,721.69 C781.68,723.24 780.22,724.62 778.46,725.59 C777.29,726.22 776.27,726.56 775.30,726.83 L775.30,730.29 C777.29,729.74 779.34,728.83 780.92,727.66 L780.92,741.50 Z" fill="#000" /><text x="789.76" y="741.50" font-size="28.80" font-weight="bold" font-style="normal" textLength="16.28" lengthAdjust="spacingAndGlyphs" fill="#000" >0</text>
<path d="M815.02,732.60 L815.02,719.39 L812.49,719.39 C811.94,720.42 810.58,721.35 808.94,721.99 C807.85,722.42 806.90,722.64 806.00,722.82 L806.00,725.13 C807.85,724.76 809.76,724.15 811.23,723.38 L811.23,732.60 Z" fill="#000" />
<path d="M784.99,656.40 L784.99,636.59 L782.27,636.59 C781.68,638.14 780.22,639.52 778.46,640.49 C777.29,641.12 776.27,641.46 775.30,641.73 L775.30,645.19 C777.29,644.64 779.34,643.73 780.92,642.56 L780.92,656.40 Z" fill="#000" /><text x="789.76" y="656.40" font-size="28.80" font-weight="bold" font-style="normal" textLength="16.28" lengthAdjust="spacingAndGlyphs" fill="#000" >0</text>
<text x="805.33" y="647.50" font-size="19.20" font-weight="bold" font-style="normal" textLength="10.68" lengthAdjust="spacingAndGlyphs" fill="#000" >2</text>
<path d="M784.99,571.30 L784.99,551.49 L782.27,551.49 C781.68,553.04 780.22,554.42 778.46,555.39 C777.29,556.02 776.27,556.36 775.30,556.63 L775.30,560.09 C777.29,559.54 779.34,558.63 780.92,557.46 L780.92,571.30 Z" fill="#000" /><text x="789.76" y="571.30" font-size="28.80" font-weight="bold" font-style="normal" textLength="16.28" lengthAdjust="spacingAndGlyphs" fill="#000" >0</text>
<text x="805.52" y="562.40" font-size="19.20" font-weight="bold" font-style="normal" textLength="10.68" lengthAdjust="spacingAndGlyphs" fill="#000" >3</text>
<path d="M784.99,486.20 L784.99,466.39 L782.27,466.39 C781.68,467.94 780.22,469.32 778.46,470.29 C777.29,470.92 776.27,471.26 775.30,471.53 L775.30,474.99 C777.29,474.44 779.34,473.53 780.92,472.36 L780.92,486.20 Z" fill="#000" /><text x="789.76" y="486.20" font-size="28.80" font-weight="bold" font-style="normal" textLength="16.28" lengthAdjust="spacingAndGlyphs" fill="#000" >0</text>
<text x="805.71" y="477.30" font-size="19.20" font-weight="bold" font-style="normal" textLength="10.68" lengthAdjust="spacingAndGlyphs" fill="#000" >4</text>
<text x="825.19" y="858.60" font-size="28.50" font-weight="bold" font-style="normal" textLength="15.85" lengthAdjust="spacingAndGlyphs" fill="#000" >0</text>
<text x="978.20" y="858.60" font-size="28.50" font-weight="bold" font-style="normal" textLength="15.85" lengthAdjust="spacingAndGlyphs" fill="#000" >5</text>
<path d="M1134.31,858.60 L1134.31,838.99 L1131.65,838.99 C1131.08,840.53 1129.65,841.89 1127.94,842.85 C1126.80,843.48 1125.80,843.81 1124.86,844.09 L1124.86,847.51 C1126.80,846.96 1128.80,846.06 1130.34,844.91 L1130.34,858.60 Z" fill="#000" /><text x="1138.97" y="858.60" font-size="28.50" font-weight="bold" font-style="normal" textLength="15.88" lengthAdjust="spacingAndGlyphs" fill="#000" >0</text>
<path d="M1287.17,858.60 L1287.17,838.99 L1284.52,838.99 C1283.94,840.53 1282.52,841.89 1280.80,842.85 C1279.66,843.48 1278.66,843.81 1277.72,844.09 L1277.72,847.51 C1279.66,846.96 1281.66,846.06 1283.20,844.91 L1283.20,858.60 Z" fill="#000" /><text x="1291.83" y="858.60" font-size="28.50" font-weight="bold" font-style="normal" textLength="15.88" lengthAdjust="spacingAndGlyphs" fill="#000" >5</text>
<text x="1429.65" y="858.60" font-size="28.50" font-weight="bold" font-style="normal" textLength="31.70" lengthAdjust="spacingAndGlyphs" fill="#000" >20</text>
<rect x="832.50" y="417.00" width="612.30" height="399.80" fill="none" stroke="#000" stroke-width="3.6"/>
</svg>
</body></html>
